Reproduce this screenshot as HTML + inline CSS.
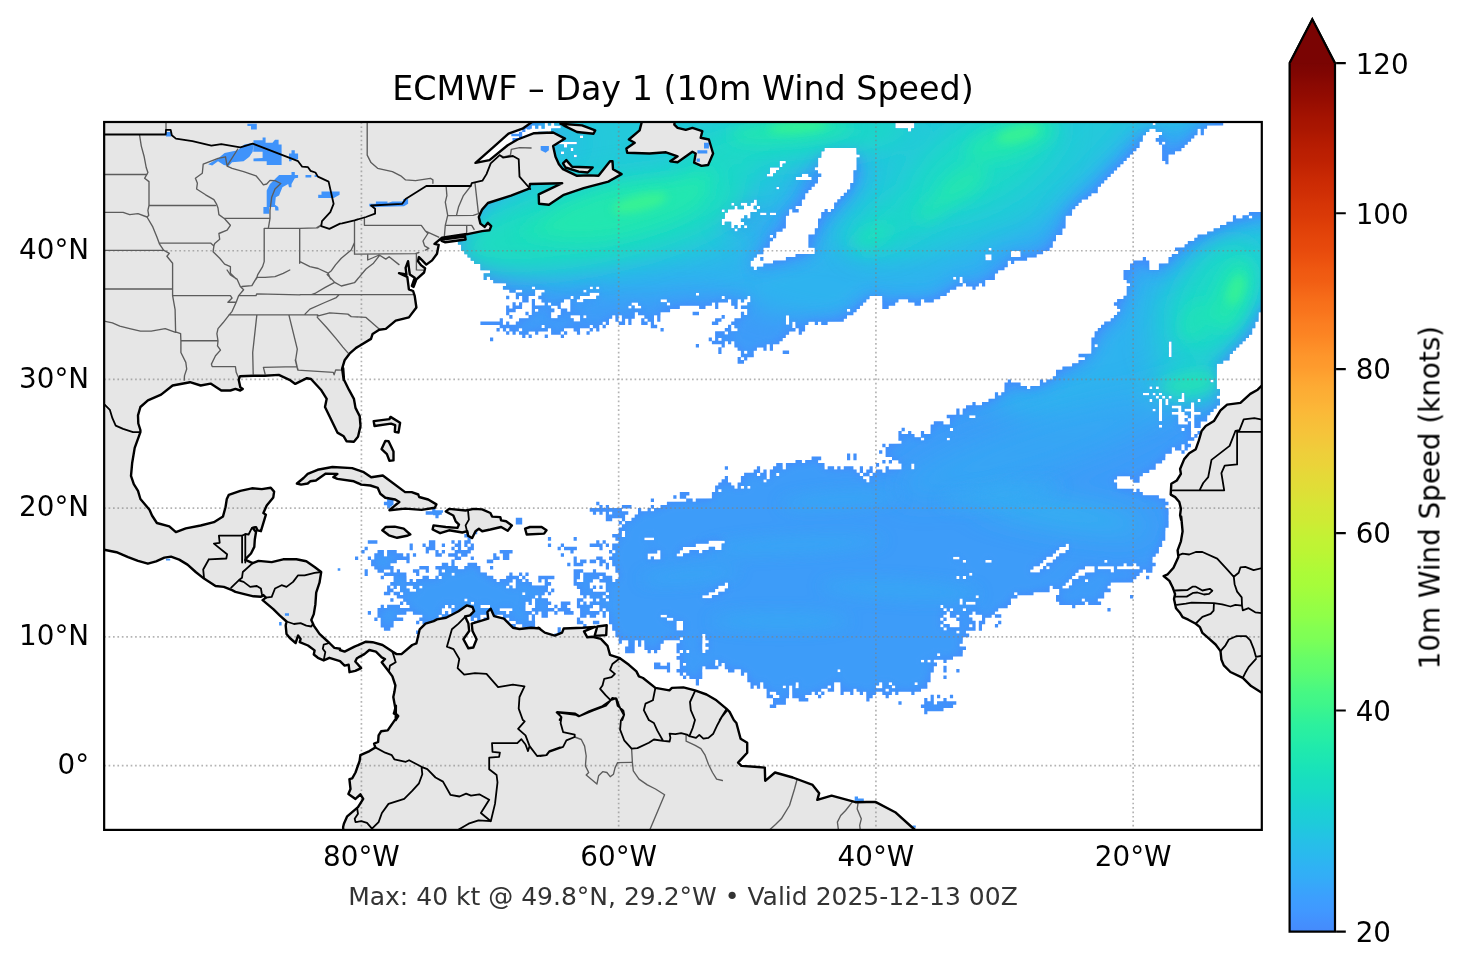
<!DOCTYPE html>
<html lang="en"><head><meta charset="utf-8"><title>ECMWF – Day 1 (10m Wind Speed)</title>
<style>html,body{margin:0;padding:0;background:#fff}svg{display:block}text{font-family:"DejaVu Sans","Liberation Sans",sans-serif;fill:#000}.t10{font-size:27.78px}.coast{fill:none;stroke:#000;stroke-width:2.4;stroke-linejoin:round;stroke-linecap:round}.bord{fill:none;stroke:#000;stroke-width:1.8;stroke-linejoin:round;stroke-linecap:round}.state{fill:none;stroke:#5c5c5c;stroke-width:1.35;stroke-linejoin:round;stroke-linecap:round}.land{fill:#e6e6e6;stroke:none}.grid{fill:none;stroke:#808080;stroke-opacity:.6;stroke-width:1.67;stroke-dasharray:1.67 2.75}</style></head><body>
<svg width="1466" height="969" viewBox="0 0 1466 969">
<defs>
<clipPath id="axclip"><rect x="104.15" y="122.0" width="1157.65" height="707.90"/></clipPath>
<linearGradient id="cbg" gradientUnits="userSpaceOnUse" x1="0" y1="931.6" x2="0" y2="63.2"><stop offset="0.0000" stop-color="#458afc"/><stop offset="0.0125" stop-color="#4391fe"/><stop offset="0.0250" stop-color="#4099ff"/><stop offset="0.0375" stop-color="#3d9efe"/><stop offset="0.0500" stop-color="#38a5fb"/><stop offset="0.0625" stop-color="#33adf7"/><stop offset="0.0750" stop-color="#2fb2f4"/><stop offset="0.0875" stop-color="#2ab9ee"/><stop offset="0.1000" stop-color="#27bee9"/><stop offset="0.1125" stop-color="#22c5e2"/><stop offset="0.1250" stop-color="#1ecbda"/><stop offset="0.1375" stop-color="#1bd0d5"/><stop offset="0.1500" stop-color="#19d5cd"/><stop offset="0.1625" stop-color="#18dbc5"/><stop offset="0.1750" stop-color="#18dec0"/><stop offset="0.1875" stop-color="#19e3b9"/><stop offset="0.2000" stop-color="#1de7b2"/><stop offset="0.2125" stop-color="#20eaac"/><stop offset="0.2250" stop-color="#27eea4"/><stop offset="0.2375" stop-color="#2cf09e"/><stop offset="0.2500" stop-color="#35f394"/><stop offset="0.2625" stop-color="#3ff68a"/><stop offset="0.2750" stop-color="#46f884"/><stop offset="0.2875" stop-color="#52fa7a"/><stop offset="0.3000" stop-color="#5dfc6f"/><stop offset="0.3125" stop-color="#65fd69"/><stop offset="0.3250" stop-color="#71fe5f"/><stop offset="0.3375" stop-color="#7dff56"/><stop offset="0.3500" stop-color="#84ff51"/><stop offset="0.3625" stop-color="#8fff49"/><stop offset="0.3750" stop-color="#96fe44"/><stop offset="0.3875" stop-color="#9ffd3f"/><stop offset="0.4000" stop-color="#a7fc3a"/><stop offset="0.4125" stop-color="#acfb38"/><stop offset="0.4250" stop-color="#b4f836"/><stop offset="0.4375" stop-color="#bcf534"/><stop offset="0.4500" stop-color="#c1f334"/><stop offset="0.4625" stop-color="#c8ef34"/><stop offset="0.4750" stop-color="#d0ea34"/><stop offset="0.4875" stop-color="#d4e735"/><stop offset="0.5000" stop-color="#dbe236"/><stop offset="0.5125" stop-color="#e1dd37"/><stop offset="0.5250" stop-color="#e5d938"/><stop offset="0.5375" stop-color="#ebd339"/><stop offset="0.5500" stop-color="#eecf3a"/><stop offset="0.5625" stop-color="#f2c93a"/><stop offset="0.5750" stop-color="#f6c33a"/><stop offset="0.5875" stop-color="#f8be39"/><stop offset="0.6000" stop-color="#fbb838"/><stop offset="0.6125" stop-color="#fcb136"/><stop offset="0.6250" stop-color="#fdac34"/><stop offset="0.6375" stop-color="#fea431"/><stop offset="0.6500" stop-color="#fe9b2d"/><stop offset="0.6625" stop-color="#fe962b"/><stop offset="0.6750" stop-color="#fd8d27"/><stop offset="0.6875" stop-color="#fc8423"/><stop offset="0.7000" stop-color="#fb7e21"/><stop offset="0.7125" stop-color="#f9751d"/><stop offset="0.7250" stop-color="#f76f1a"/><stop offset="0.7375" stop-color="#f46617"/><stop offset="0.7500" stop-color="#f15d13"/><stop offset="0.7625" stop-color="#ef5811"/><stop offset="0.7750" stop-color="#eb500e"/><stop offset="0.7875" stop-color="#e7490c"/><stop offset="0.8000" stop-color="#e4450a"/><stop offset="0.8125" stop-color="#df3f08"/><stop offset="0.8250" stop-color="#da3907"/><stop offset="0.8375" stop-color="#d63506"/><stop offset="0.8500" stop-color="#d02f05"/><stop offset="0.8625" stop-color="#cc2b04"/><stop offset="0.8750" stop-color="#c52603"/><stop offset="0.8875" stop-color="#be2102"/><stop offset="0.9000" stop-color="#b91e02"/><stop offset="0.9125" stop-color="#b21a01"/><stop offset="0.9250" stop-color="#a91601"/><stop offset="0.9375" stop-color="#a41301"/><stop offset="0.9500" stop-color="#9b0f01"/><stop offset="0.9625" stop-color="#920b01"/><stop offset="0.9750" stop-color="#8b0902"/><stop offset="0.9875" stop-color="#810602"/><stop offset="1.0000" stop-color="#7a0403"/></linearGradient>
<path id="lp" d="M532.4 108.1L531.9 122.1L522.5 128.7L508.5 133.7L494.5 146.1L482.9 156.3L475.5 162.9L489.5 160.1L507.7 145.2L517.6 139.5L534.1 133.2L553.1 132.5L565 138.6L553.1 146.1L555.5 156.8L558.9 164.2L563 169.2L577 175.8L589.4 175.4L598.5 175.8L610 161.2L612.5 161.2L613 169.2L621.6 174.1L608.4 181.6L583.6 188.2L563.8 194.8L548.9 204.7L539 203.8L538.7 194.3L562.2 183.2L530 184L529.1 188.7L511 195.6L487.9 203L482.1 209.6L478.8 217L480.4 223.6L484.6 226.9L487.9 222.8L491.2 226.1L489.5 230.2L482.1 231.1L466.4 234.4L466.7 234L442 237.8L437.8 241.1L434.5 243.9L438.7 244.8L437 253.8L432.1 260.4L426.3 264.6L422.2 260.4L418.9 257.1L418 261.3L421.3 265.4L425.1 268.2L424.1 272.5L416.4 279.4L413.6 286.9L411.9 286L414.7 277.8L409.8 274.5L408.9 267.9L408.1 261.3L405.6 267.9L406.5 274.5L399 273.2L407.3 276.9L408.9 289.3L413.1 291L414.7 295.9L416.4 307.5L408.9 317.4L395.7 320.7L385.8 328.9L379.2 329.8L372.6 333.9L371 338.9L356.1 347.9L349.5 353.7L344.6 360.3L342.1 368.6L343.7 380L343.2 368.3L344 379.8L348.9 389.7L353.9 398.8L355.5 407.9L359.7 416.1L360.5 426L358 436.8L353.9 441.7L346.5 441.2L343.7 436.3L337.4 432.6L325 407L326.7 398.8L320.9 389.7L311 379L306.9 378.2L295.3 383.9L289.5 379.8L278.8 374.9L264.8 375.7L253.2 375.7L240 376.2L240 376.1L238.7 379.8L240.3 387.2L242.8 388.9L240.3 390.5L235.4 388.9L230.4 390.5L221.3 390.5L210.6 383.6L200.7 385.5L190 382.2L172.6 385.5L161.1 394.6L147.9 400.4L140.4 407L138 415.3L138.3 423.5L140.4 430L140.4 432.2L134.7 447.9L132.2 462.7L131 475.9L133.8 484.2L138 490.8L140.4 499L149.5 509.8L152 515.5L156.9 523L169.3 526.3L175.9 532.1L185.8 528.4L200.7 525.5L213.9 522.2L223 516.4L225.5 507.3L226.8 499L228.8 494.9L240.3 490.8L251.9 488.3L261.8 489.1L270.8 487.8L274.1 491.6L273.3 497.4L266.7 505.6L263.4 513.1L265.9 514.7L260.9 531.2L257.6 530.4L256 527.1L252.7 527.9L256 532.1L254.8 539.5L254.3 546.9L251 553.5L246.9 557.6L245.3 560L246.6 560.4L252.7 563.2L258.5 560.9L271.7 562.1L283.2 559.3L296.4 559.3L306.3 561.3L314.6 567L321.2 572L319.5 582.7L316.2 592.6L315.4 604.2L313.8 614.1L311.3 619.9L313.8 625.6L319.5 633.9L329.4 643L334.4 647.9L340 648.8L339.9 650L344.6 651.6L354.5 646.7L366 641.7L372.6 642.2L382.5 645L392.4 651.6L396.6 654.1L401.5 654.1L412.2 645L416.4 643.4L419.7 629.3L425.5 623.6L433.7 621.1L437 619.4L446.1 617.8L458.5 611.2L466.7 605.4L472.5 607L474.1 611.2L470 615.3L465.1 616.5L468.4 623.6L469.2 631L463.4 639.2L468.4 648.3L473.3 647.5L476.6 639.2L472.5 631L471.7 623.6L488.2 618.6L487.4 612L490.7 608.7L494 616.1L503.9 618.6L512.9 627.7L519.5 629L531.1 627.7L540 628.5L538.2 627.7L544.8 632.6L554.7 635.6L562.1 632.6L563.7 628.5L582.7 627.7L595.1 626.9L584 631.3L587.3 637.3L592.6 636.8L600.9 638.9L607.5 645.8L610 654.9L619.9 658.2L628.9 664.8L636.4 671.4L638.9 676.4L643 678L655.4 687.9L669.4 690.4L671.9 687.9L683.4 687.4L695 690.4L706.5 694.5L716.4 700.3L726.3 708.6L729.6 711.9L733.8 720L736.4 723L740.6 738.7L747.2 742.8L747.2 752.7L738.1 762.6L741.4 765.9L754.6 766.8L764.8 767.6L765.2 780.8L775 772.5L792.8 777.5L812.6 784.9L819.2 793.2L817.3 799.8L831.6 795.6L855.5 802.2L875.4 801.9L895.2 812.2L911.7 827L917.5 832L921.6 855.1L344.8 855.1L343.1 827L343.9 823.7L347.2 816.3L358 807.2L363.2 798.9L360.4 794.3L355.5 798.9L348.4 794L350.5 789L349.4 779.1L352.2 778.3L355.5 772.5L359.6 761L360.4 755.2L369.5 751.1L375.3 747.4L374.1 743.6L378.1 742L378.6 735.4L381.1 731.3L387.7 730.4L397.9 715.6L394.3 712.3L395.9 705.7L395.7 720L398.2 716L393.8 713.5L395.4 708.6L393.3 697L394.4 692.1L395.4 685.5L392.4 676.4L387.5 669.8L381.7 662.3L385 659L381.7 657.4L375.9 651.6L369.3 650L364.4 654.1L356.9 658.2L355.3 661.5L361.1 668.1L355.3 670.9L349.5 672.2L348.7 664.8L344.6 665.6L340 661.1L329.4 657.8L323.7 660.3L317.9 657.8L313.8 654.5L314.6 650.4L308 645.5L299.7 642.2L300.6 638.9L298.1 635.5L295.6 643L289.8 638L286.5 633.9L285.7 625.6L286.5 621.5L279.9 615.7L273.3 609.1L262.6 600.1L265.9 597.6L263.4 595.1L260.9 596.8L253.5 596.3L245.3 594.3L235.4 591.8L232.1 590.2L223.8 586.9L215.5 586L204 578.6L195.7 572L187.5 564.6L179.2 559.6L171 556.6L164.4 557.6L156.1 561.3L147.9 563.7L138 560.9L128.1 557.1L116.5 552.2L104.1 549.7L83.5 548.1L60 548.1L60 80L532.4 80ZM1314.7 376.5L1261.8 385.6L1257.7 389.7L1250.3 393.9L1240.4 402.9L1227.1 404.6L1220.5 410.4L1213.9 421.1L1205.7 426.1L1201.6 431L1198.7 440.9L1195.8 449.2L1189.2 453.3L1184.2 459.1L1180.1 469L1180.9 473.9L1176.8 480.5L1171.3 483.8L1170.7 494.6L1175.1 497.1L1179.3 502L1180.9 508.6L1180.1 515.2L1181.2 520L1181.2 516.5L1182.6 531.4L1180.9 541.3L1177.6 550.4L1178.4 557L1173.5 567.7L1167.7 574.3L1163.6 576L1169.4 580.9L1172.7 587.5L1175.1 594.1L1174 599.1L1176 608.2L1180.1 613.1L1182.6 617.2L1188.3 619.7L1195.8 623.8L1199.9 627.1L1202.4 632.9L1207.3 637.1L1215.6 644.5L1220.5 651.1L1221.4 659.6L1223.8 665.4L1230.4 672L1242.8 677.8L1251.1 686.1L1261.8 692.7L1314.7 712.5ZM645.4 108.1L639.6 130.4L628.9 139.5L634.7 142.8L626.4 148.5L627.2 152.7L649.5 153.5L666 152.3L677.6 156.3L670.2 161.2L677.6 162.2L692.4 151.8L695.7 153.5L694.1 162.6L701.5 165.9L708.1 165L713.1 153.5L708.9 139.5L700.7 137.8L702.3 131.2L692.4 127.9L685.8 129.9L677.6 127.9L674.3 124.6L676.8 108.1ZM560.5 123.8L582 125.4L595.2 130.4L593.5 133.7L577 132L565.5 126.3ZM563 163.4L566.3 160.1L572.1 166.7L592.7 167.5L587.7 172.5L578.7 171.6L565.5 167.5ZM442 239.5L465.1 236.5L465.6 239.5L445.3 242.3L441.6 240.8ZM373.7 421.1L389.4 419.1L390.5 416.9L400.1 422.7L398.5 432.6L394.8 431.8L395.2 425.2L391 423.6L374.5 426ZM385.3 440.9L388.6 441.2L393.5 451.6L393.5 460.4L389.4 460.7L386.9 454.1L381.6 449.1ZM296.9 483.5L303.6 478L307.7 473.9L317.6 469.8L332.4 467L352.2 468.1L363.8 472.2L371.2 477.2L382.8 475.5L405.1 492.1L411.7 492.1L418.3 494.5L419.1 497L428.2 499.5L436.4 504.4L434.8 507.7L421.6 509.9L405.1 508.6L389.4 510.2L395.2 505.3L399.3 502L395.2 499.5L385.3 497.8L380.3 493.7L377.8 487.9L370.4 485.5L361.3 484.6L353.9 481.3L337.4 478.9L333.3 477.2L337.4 473.9L325.8 473.6L315.9 480.5L310.2 481.3L307.7 483.5L301.1 484.6ZM597.3 626.5L606.7 625.2L606.2 635.1L594.6 635.9ZM382.3 530.3L385.6 527L394.7 526.6L403.7 528.7L410.3 534.5L407 535.8L397.1 537.8L388.9 535.3ZM445.8 511.4L449.1 508.9L465.6 510.5L473.9 508.9L482.2 509.4L490.4 513L492.1 516.6L500.3 517.1L501.1 520.4L506.1 521.3L511.9 525.4L507.7 530.8L501.1 527L490.4 529.5L482.2 531.2L478.9 528.7L475.5 531.2L472.2 538.1L468.1 535.8L467.3 531.2L462.3 532.5L449.1 530.3L440.1 533.2L432.6 529.5L433.5 525.4L445.8 527L457.4 527.9L459 524.6L455.7 521.3L453.3 515.5L450 513.8ZM525.1 528.7L530 527L541.6 527L546.5 530.3L544.1 533.6L526.7 534.5Z"/>
<path id="wm" d="M522.2 70.5h707.5v3.57h-707.5zM522.2 73.7h707.5v3.57h-707.5zM522.2 77.0h701.0v3.57h-701.0zM1226.4 77.0h6.4v3.57h-6.4zM522.2 80.2h707.5v3.57h-707.5zM522.2 83.4h707.5v3.57h-707.5zM522.2 86.6h707.5v3.57h-707.5zM522.2 89.8h707.5v3.57h-707.5zM522.2 93.0h3.2v3.57h-3.2zM528.6 93.0h701.0v3.57h-701.0zM522.2 96.3h707.5v3.57h-707.5zM522.2 99.5h707.5v3.57h-707.5zM522.2 102.7h707.5v3.57h-707.5zM522.2 105.9h707.5v3.57h-707.5zM522.2 109.1h707.5v3.57h-707.5zM525.4 112.3h16.1v3.57h-16.1zM544.7 112.3h684.9v3.57h-684.9zM522.2 115.6h701.0v3.57h-701.0zM1226.4 115.6h3.2v3.57h-3.2zM522.2 118.8h9.6v3.57h-9.6zM535.1 118.8h19.3v3.57h-19.3zM557.6 118.8h337.6v3.57h-337.6zM898.4 118.8h331.2v3.57h-331.2zM522.2 122.0h22.5v3.57h-22.5zM547.9 122.0h3.2v3.57h-3.2zM554.3 122.0h340.9v3.57h-340.9zM914.5 122.0h238.0v3.57h-238.0zM1155.7 122.0h67.5v3.57h-67.5zM522.2 125.2h9.6v3.57h-9.6zM535.1 125.2h3.2v3.57h-3.2zM541.5 125.2h3.2v3.57h-3.2zM560.8 125.2h334.4v3.57h-334.4zM914.5 125.2h292.6v3.57h-292.6zM522.2 128.4h3.2v3.57h-3.2zM551.1 128.4h356.9v3.57h-356.9zM911.3 128.4h238.0v3.57h-238.0zM1155.7 128.4h41.8v3.57h-41.8zM1200.7 128.4h3.2v3.57h-3.2zM519.0 131.7h3.2v3.57h-3.2zM538.3 131.7h9.6v3.57h-9.6zM551.1 131.7h594.9v3.57h-594.9zM1162.1 131.7h35.4v3.57h-35.4zM1200.7 131.7h3.2v3.57h-3.2zM519.0 134.9h3.2v3.57h-3.2zM531.8 134.9h48.2v3.57h-48.2zM583.3 134.9h559.5v3.57h-559.5zM1158.9 134.9h35.4v3.57h-35.4zM512.5 138.1h9.6v3.57h-9.6zM525.4 138.1h32.2v3.57h-32.2zM560.8 138.1h582.0v3.57h-582.0zM1155.7 138.1h35.4v3.57h-35.4zM515.8 141.3h3.2v3.57h-3.2zM522.2 141.3h22.5v3.57h-22.5zM547.9 141.3h6.4v3.57h-6.4zM576.9 141.3h562.7v3.57h-562.7zM1158.9 141.3h3.2v3.57h-3.2zM1165.3 141.3h22.5v3.57h-22.5zM522.2 144.5h41.8v3.57h-41.8zM567.2 144.5h572.4v3.57h-572.4zM1162.1 144.5h22.5v3.57h-22.5zM519.0 147.7h51.5v3.57h-51.5zM573.6 147.7h250.8v3.57h-250.8zM856.6 147.7h279.8v3.57h-279.8zM1162.1 147.7h19.3v3.57h-19.3zM519.0 151.0h41.8v3.57h-41.8zM564.0 151.0h257.3v3.57h-257.3zM856.6 151.0h276.5v3.57h-276.5zM1162.1 151.0h12.9v3.57h-12.9zM519.0 154.2h54.7v3.57h-54.7zM576.9 154.2h244.4v3.57h-244.4zM859.8 154.2h270.1v3.57h-270.1zM1162.1 154.2h6.4v3.57h-6.4zM519.0 157.4h299.1v3.57h-299.1zM856.6 157.4h270.1v3.57h-270.1zM1162.1 157.4h6.4v3.57h-6.4zM515.8 160.6h48.2v3.57h-48.2zM567.2 160.6h212.2v3.57h-212.2zM785.9 160.6h32.2v3.57h-32.2zM856.6 160.6h266.9v3.57h-266.9zM1165.3 160.6h3.2v3.57h-3.2zM515.8 163.8h263.7v3.57h-263.7zM782.7 163.8h35.4v3.57h-35.4zM856.6 163.8h263.7v3.57h-263.7zM509.3 167.0h260.5v3.57h-260.5zM779.4 167.0h35.4v3.57h-35.4zM856.6 167.0h260.5v3.57h-260.5zM506.1 170.3h263.7v3.57h-263.7zM776.2 170.3h41.8v3.57h-41.8zM853.4 170.3h260.5v3.57h-260.5zM502.9 173.5h263.7v3.57h-263.7zM773.0 173.5h28.9v3.57h-28.9zM808.4 173.5h12.9v3.57h-12.9zM853.4 173.5h257.3v3.57h-257.3zM496.5 176.7h299.1v3.57h-299.1zM811.6 176.7h6.4v3.57h-6.4zM853.4 176.7h254.0v3.57h-254.0zM493.2 179.9h324.8v3.57h-324.8zM853.4 179.9h250.8v3.57h-250.8zM490.0 183.1h324.8v3.57h-324.8zM850.2 183.1h250.8v3.57h-250.8zM486.8 186.4h289.4v3.57h-289.4zM779.4 186.4h32.2v3.57h-32.2zM850.2 186.4h247.6v3.57h-247.6zM483.6 189.6h324.8v3.57h-324.8zM847.0 189.6h250.8v3.57h-250.8zM477.2 192.8h328.0v3.57h-328.0zM843.8 192.8h247.6v3.57h-247.6zM477.2 196.0h328.0v3.57h-328.0zM840.5 196.0h247.6v3.57h-247.6zM474.0 199.2h279.8v3.57h-279.8zM756.9 199.2h45.0v3.57h-45.0zM837.3 199.2h244.4v3.57h-244.4zM470.7 202.4h260.5v3.57h-260.5zM734.4 202.4h6.4v3.57h-6.4zM747.3 202.4h3.2v3.57h-3.2zM756.9 202.4h45.0v3.57h-45.0zM834.1 202.4h244.4v3.57h-244.4zM474.0 205.7h260.5v3.57h-260.5zM737.6 205.7h6.4v3.57h-6.4zM753.7 205.7h3.2v3.57h-3.2zM760.2 205.7h35.4v3.57h-35.4zM834.1 205.7h241.2v3.57h-241.2zM467.5 208.9h254.0v3.57h-254.0zM724.8 208.9h3.2v3.57h-3.2zM756.9 208.9h32.2v3.57h-32.2zM792.3 208.9h6.4v3.57h-6.4zM824.5 208.9h3.2v3.57h-3.2zM830.9 208.9h241.2v3.57h-241.2zM464.3 212.1h260.5v3.57h-260.5zM750.5 212.1h9.6v3.57h-9.6zM766.6 212.1h3.2v3.57h-3.2zM776.2 212.1h12.9v3.57h-12.9zM821.2 212.1h250.8v3.57h-250.8zM1248.9 212.1h57.9v3.57h-57.9zM464.3 215.3h260.5v3.57h-260.5zM744.1 215.3h3.2v3.57h-3.2zM750.5 215.3h35.4v3.57h-35.4zM821.2 215.3h244.4v3.57h-244.4zM1232.9 215.3h3.2v3.57h-3.2zM1242.5 215.3h6.4v3.57h-6.4zM1252.2 215.3h54.7v3.57h-54.7zM461.1 218.5h260.5v3.57h-260.5zM740.9 218.5h45.0v3.57h-45.0zM818.0 218.5h247.6v3.57h-247.6zM1232.9 218.5h74.0v3.57h-74.0zM457.9 221.7h263.7v3.57h-263.7zM724.8 221.7h6.4v3.57h-6.4zM744.1 221.7h41.8v3.57h-41.8zM818.0 221.7h247.6v3.57h-247.6zM1226.4 221.7h80.4v3.57h-80.4zM457.9 225.0h273.3v3.57h-273.3zM734.4 225.0h3.2v3.57h-3.2zM740.9 225.0h3.2v3.57h-3.2zM747.3 225.0h38.6v3.57h-38.6zM818.0 225.0h247.6v3.57h-247.6zM1220.0 225.0h86.8v3.57h-86.8zM454.7 228.2h279.8v3.57h-279.8zM737.6 228.2h45.0v3.57h-45.0zM814.8 228.2h247.6v3.57h-247.6zM1213.6 228.2h93.3v3.57h-93.3zM457.9 231.4h318.4v3.57h-318.4zM814.8 231.4h247.6v3.57h-247.6zM1207.1 231.4h99.7v3.57h-99.7zM457.9 234.6h311.9v3.57h-311.9zM773.0 234.6h3.2v3.57h-3.2zM808.4 234.6h247.6v3.57h-247.6zM1197.5 234.6h109.3v3.57h-109.3zM461.1 237.8h311.9v3.57h-311.9zM808.4 237.8h247.6v3.57h-247.6zM1194.3 237.8h112.5v3.57h-112.5zM457.9 241.1h311.9v3.57h-311.9zM808.4 241.1h244.4v3.57h-244.4zM1187.8 241.1h119.0v3.57h-119.0zM461.1 244.3h308.7v3.57h-308.7zM808.4 244.3h244.4v3.57h-244.4zM1184.6 244.3h122.2v3.57h-122.2zM461.1 247.5h302.3v3.57h-302.3zM814.8 247.5h173.6v3.57h-173.6zM991.7 247.5h57.9v3.57h-57.9zM1175.0 247.5h131.8v3.57h-131.8zM464.3 250.7h299.1v3.57h-299.1zM814.8 250.7h196.2v3.57h-196.2zM1020.6 250.7h22.5v3.57h-22.5zM1178.2 250.7h128.6v3.57h-128.6zM467.5 253.9h289.4v3.57h-289.4zM795.5 253.9h189.7v3.57h-189.7zM991.7 253.9h19.3v3.57h-19.3zM1020.6 253.9h16.1v3.57h-16.1zM1171.8 253.9h135.1v3.57h-135.1zM470.7 257.1h283.0v3.57h-283.0zM760.2 257.1h3.2v3.57h-3.2zM785.9 257.1h199.4v3.57h-199.4zM991.7 257.1h35.4v3.57h-35.4zM1142.8 257.1h3.2v3.57h-3.2zM1168.5 257.1h138.3v3.57h-138.3zM474.0 260.4h276.5v3.57h-276.5zM773.0 260.4h234.7v3.57h-234.7zM1011.0 260.4h3.2v3.57h-3.2zM1133.2 260.4h16.1v3.57h-16.1zM1168.5 260.4h138.3v3.57h-138.3zM480.4 263.6h270.1v3.57h-270.1zM763.4 263.6h244.4v3.57h-244.4zM1130.0 263.6h19.3v3.57h-19.3zM1158.9 263.6h147.9v3.57h-147.9zM480.4 266.8h273.3v3.57h-273.3zM756.9 266.8h247.6v3.57h-247.6zM1130.0 266.8h19.3v3.57h-19.3zM1158.9 266.8h147.9v3.57h-147.9zM490.0 270.0h508.1v3.57h-508.1zM1123.5 270.0h183.3v3.57h-183.3zM483.6 273.2h511.3v3.57h-511.3zM1123.5 273.2h183.3v3.57h-183.3zM483.6 276.5h3.2v3.57h-3.2zM490.0 276.5h463.1v3.57h-463.1zM956.3 276.5h3.2v3.57h-3.2zM962.7 276.5h32.2v3.57h-32.2zM1123.5 276.5h183.3v3.57h-183.3zM493.2 279.7h466.3v3.57h-466.3zM962.7 279.7h22.5v3.57h-22.5zM1126.7 279.7h180.1v3.57h-180.1zM506.1 282.9h456.6v3.57h-456.6zM966.0 282.9h12.9v3.57h-12.9zM982.0 282.9h3.2v3.57h-3.2zM1130.0 282.9h176.9v3.57h-176.9zM502.9 286.1h28.9v3.57h-28.9zM535.1 286.1h54.7v3.57h-54.7zM592.9 286.1h3.2v3.57h-3.2zM599.4 286.1h356.9v3.57h-356.9zM972.4 286.1h3.2v3.57h-3.2zM1126.7 286.1h180.1v3.57h-180.1zM509.3 289.3h6.4v3.57h-6.4zM522.2 289.3h12.9v3.57h-12.9zM544.7 289.3h38.6v3.57h-38.6zM586.5 289.3h363.4v3.57h-363.4zM1126.7 289.3h180.1v3.57h-180.1zM515.8 292.5h19.3v3.57h-19.3zM541.5 292.5h48.2v3.57h-48.2zM599.4 292.5h96.5v3.57h-96.5zM699.1 292.5h247.6v3.57h-247.6zM1126.7 292.5h180.1v3.57h-180.1zM506.1 295.8h3.2v3.57h-3.2zM515.8 295.8h3.2v3.57h-3.2zM522.2 295.8h6.4v3.57h-6.4zM538.3 295.8h32.2v3.57h-32.2zM573.6 295.8h6.4v3.57h-6.4zM596.2 295.8h125.4v3.57h-125.4zM724.8 295.8h22.5v3.57h-22.5zM750.5 295.8h119.0v3.57h-119.0zM882.3 295.8h57.9v3.57h-57.9zM1123.5 295.8h183.3v3.57h-183.3zM522.2 299.0h6.4v3.57h-6.4zM531.8 299.0h3.2v3.57h-3.2zM541.5 299.0h22.5v3.57h-22.5zM570.4 299.0h6.4v3.57h-6.4zM583.3 299.0h77.2v3.57h-77.2zM666.9 299.0h61.1v3.57h-61.1zM731.2 299.0h6.4v3.57h-6.4zM740.9 299.0h3.2v3.57h-3.2zM750.5 299.0h115.8v3.57h-115.8zM882.3 299.0h16.1v3.57h-16.1zM908.1 299.0h12.9v3.57h-12.9zM924.2 299.0h9.6v3.57h-9.6zM1117.1 299.0h189.7v3.57h-189.7zM512.5 302.2h3.2v3.57h-3.2zM519.0 302.2h3.2v3.57h-3.2zM531.8 302.2h3.2v3.57h-3.2zM544.7 302.2h3.2v3.57h-3.2zM551.1 302.2h9.6v3.57h-9.6zM570.4 302.2h61.1v3.57h-61.1zM638.0 302.2h28.9v3.57h-28.9zM670.1 302.2h41.8v3.57h-41.8zM715.1 302.2h3.2v3.57h-3.2zM731.2 302.2h6.4v3.57h-6.4zM747.3 302.2h115.8v3.57h-115.8zM882.3 302.2h12.9v3.57h-12.9zM914.5 302.2h6.4v3.57h-6.4zM1113.9 302.2h192.9v3.57h-192.9zM506.1 305.4h3.2v3.57h-3.2zM512.5 305.4h9.6v3.57h-9.6zM531.8 305.4h19.3v3.57h-19.3zM557.6 305.4h3.2v3.57h-3.2zM570.4 305.4h57.9v3.57h-57.9zM631.5 305.4h3.2v3.57h-3.2zM641.2 305.4h38.6v3.57h-38.6zM699.1 305.4h6.4v3.57h-6.4zM715.1 305.4h3.2v3.57h-3.2zM734.4 305.4h3.2v3.57h-3.2zM740.9 305.4h119.0v3.57h-119.0zM882.3 305.4h6.4v3.57h-6.4zM1117.1 305.4h144.7v3.57h-144.7zM506.1 308.6h9.6v3.57h-9.6zM531.8 308.6h3.2v3.57h-3.2zM538.3 308.6h16.1v3.57h-16.1zM560.8 308.6h6.4v3.57h-6.4zM570.4 308.6h99.7v3.57h-99.7zM747.3 308.6h99.7v3.57h-99.7zM850.2 308.6h6.4v3.57h-6.4zM1120.3 308.6h141.5v3.57h-141.5zM506.1 311.8h3.2v3.57h-3.2zM525.4 311.8h3.2v3.57h-3.2zM531.8 311.8h19.3v3.57h-19.3zM560.8 311.8h74.0v3.57h-74.0zM638.0 311.8h22.5v3.57h-22.5zM692.6 311.8h6.4v3.57h-6.4zM740.9 311.8h3.2v3.57h-3.2zM747.3 311.8h106.1v3.57h-106.1zM1117.1 311.8h141.5v3.57h-141.5zM509.3 315.1h3.2v3.57h-3.2zM528.6 315.1h22.5v3.57h-22.5zM557.6 315.1h12.9v3.57h-12.9zM580.1 315.1h3.2v3.57h-3.2zM586.5 315.1h25.7v3.57h-25.7zM615.4 315.1h3.2v3.57h-3.2zM621.9 315.1h12.9v3.57h-12.9zM644.4 315.1h9.6v3.57h-9.6zM657.2 315.1h3.2v3.57h-3.2zM721.6 315.1h3.2v3.57h-3.2zM740.9 315.1h45.0v3.57h-45.0zM789.1 315.1h57.9v3.57h-57.9zM1113.9 315.1h144.7v3.57h-144.7zM499.7 318.3h3.2v3.57h-3.2zM519.0 318.3h54.7v3.57h-54.7zM580.1 318.3h28.9v3.57h-28.9zM615.4 318.3h3.2v3.57h-3.2zM621.9 318.3h3.2v3.57h-3.2zM628.3 318.3h3.2v3.57h-3.2zM641.2 318.3h3.2v3.57h-3.2zM647.6 318.3h6.4v3.57h-6.4zM657.2 318.3h3.2v3.57h-3.2zM715.1 318.3h6.4v3.57h-6.4zM734.4 318.3h51.5v3.57h-51.5zM789.1 318.3h54.7v3.57h-54.7zM1110.7 318.3h147.9v3.57h-147.9zM480.4 321.5h22.5v3.57h-22.5zM506.1 321.5h3.2v3.57h-3.2zM515.8 321.5h86.8v3.57h-86.8zM605.8 321.5h3.2v3.57h-3.2zM618.7 321.5h6.4v3.57h-6.4zM628.3 321.5h3.2v3.57h-3.2zM641.2 321.5h6.4v3.57h-6.4zM650.8 321.5h3.2v3.57h-3.2zM711.9 321.5h6.4v3.57h-6.4zM731.2 321.5h54.7v3.57h-54.7zM789.1 321.5h3.2v3.57h-3.2zM795.5 321.5h12.9v3.57h-12.9zM814.8 321.5h3.2v3.57h-3.2zM821.2 321.5h6.4v3.57h-6.4zM1104.2 321.5h151.1v3.57h-151.1zM499.7 324.7h41.8v3.57h-41.8zM544.7 324.7h45.0v3.57h-45.0zM592.9 324.7h6.4v3.57h-6.4zM602.6 324.7h3.2v3.57h-3.2zM650.8 324.7h6.4v3.57h-6.4zM728.0 324.7h3.2v3.57h-3.2zM734.4 324.7h57.9v3.57h-57.9zM795.5 324.7h9.6v3.57h-9.6zM1101.0 324.7h154.4v3.57h-154.4zM496.5 327.9h3.2v3.57h-3.2zM502.9 327.9h3.2v3.57h-3.2zM509.3 327.9h9.6v3.57h-9.6zM522.2 327.9h25.7v3.57h-25.7zM551.1 327.9h12.9v3.57h-12.9zM573.6 327.9h6.4v3.57h-6.4zM589.7 327.9h3.2v3.57h-3.2zM596.2 327.9h3.2v3.57h-3.2zM660.5 327.9h3.2v3.57h-3.2zM724.8 327.9h6.4v3.57h-6.4zM737.6 327.9h57.9v3.57h-57.9zM798.7 327.9h6.4v3.57h-6.4zM1097.8 327.9h154.4v3.57h-154.4zM506.1 331.2h3.2v3.57h-3.2zM512.5 331.2h3.2v3.57h-3.2zM519.0 331.2h9.6v3.57h-9.6zM535.1 331.2h3.2v3.57h-3.2zM551.1 331.2h9.6v3.57h-9.6zM564.0 331.2h3.2v3.57h-3.2zM576.9 331.2h3.2v3.57h-3.2zM586.5 331.2h3.2v3.57h-3.2zM715.1 331.2h9.6v3.57h-9.6zM728.0 331.2h61.1v3.57h-61.1zM798.7 331.2h3.2v3.57h-3.2zM1094.6 331.2h157.6v3.57h-157.6zM522.2 334.4h3.2v3.57h-3.2zM528.6 334.4h3.2v3.57h-3.2zM544.7 334.4h3.2v3.57h-3.2zM560.8 334.4h3.2v3.57h-3.2zM715.1 334.4h70.7v3.57h-70.7zM1094.6 334.4h154.4v3.57h-154.4zM490.0 337.6h3.2v3.57h-3.2zM708.7 337.6h3.2v3.57h-3.2zM715.1 337.6h3.2v3.57h-3.2zM721.6 337.6h61.1v3.57h-61.1zM1091.4 337.6h154.4v3.57h-154.4zM711.9 340.8h12.9v3.57h-12.9zM728.0 340.8h3.2v3.57h-3.2zM734.4 340.8h45.0v3.57h-45.0zM1091.4 340.8h77.2v3.57h-77.2zM1171.8 340.8h70.7v3.57h-70.7zM695.8 344.0h3.2v3.57h-3.2zM721.6 344.0h3.2v3.57h-3.2zM734.4 344.0h32.2v3.57h-32.2zM769.8 344.0h3.2v3.57h-3.2zM1091.4 344.0h3.2v3.57h-3.2zM1097.8 344.0h70.7v3.57h-70.7zM1171.8 344.0h67.5v3.57h-67.5zM718.3 347.2h3.2v3.57h-3.2zM737.6 347.2h19.3v3.57h-19.3zM763.4 347.2h3.2v3.57h-3.2zM769.8 347.2h3.2v3.57h-3.2zM1091.4 347.2h77.2v3.57h-77.2zM1171.8 347.2h64.3v3.57h-64.3zM718.3 350.5h3.2v3.57h-3.2zM740.9 350.5h3.2v3.57h-3.2zM747.3 350.5h6.4v3.57h-6.4zM782.7 350.5h6.4v3.57h-6.4zM1091.4 350.5h77.2v3.57h-77.2zM1171.8 350.5h61.1v3.57h-61.1zM740.9 353.7h12.9v3.57h-12.9zM1078.5 353.7h90.0v3.57h-90.0zM1171.8 353.7h57.9v3.57h-57.9zM737.6 356.9h3.2v3.57h-3.2zM744.1 356.9h3.2v3.57h-3.2zM1084.9 356.9h144.7v3.57h-144.7zM737.6 360.1h6.4v3.57h-6.4zM1078.5 360.1h144.7v3.57h-144.7zM1072.1 363.3h144.7v3.57h-144.7zM1062.4 366.5h154.4v3.57h-154.4zM1056.0 369.8h160.8v3.57h-160.8zM1056.0 373.0h160.8v3.57h-160.8zM1052.8 376.2h164.0v3.57h-164.0zM1007.8 379.4h3.2v3.57h-3.2zM1039.9 379.4h3.2v3.57h-3.2zM1046.3 379.4h164.0v3.57h-164.0zM1213.6 379.4h3.2v3.57h-3.2zM1004.5 382.6h16.1v3.57h-16.1zM1039.9 382.6h176.9v3.57h-176.9zM1004.5 385.9h22.5v3.57h-22.5zM1030.3 385.9h119.0v3.57h-119.0zM1152.5 385.9h3.2v3.57h-3.2zM1158.9 385.9h57.9v3.57h-57.9zM1004.5 389.1h215.5v3.57h-215.5zM994.9 392.3h3.2v3.57h-3.2zM1001.3 392.3h141.5v3.57h-141.5zM1149.3 392.3h3.2v3.57h-3.2zM1155.7 392.3h3.2v3.57h-3.2zM1162.1 392.3h19.3v3.57h-19.3zM1184.6 392.3h35.4v3.57h-35.4zM994.9 395.5h160.8v3.57h-160.8zM1158.9 395.5h3.2v3.57h-3.2zM1165.3 395.5h3.2v3.57h-3.2zM1171.8 395.5h9.6v3.57h-9.6zM1184.6 395.5h32.2v3.57h-32.2zM988.5 398.7h160.8v3.57h-160.8zM1152.5 398.7h6.4v3.57h-6.4zM1162.1 398.7h3.2v3.57h-3.2zM1168.5 398.7h9.6v3.57h-9.6zM1184.6 398.7h12.9v3.57h-12.9zM1200.7 398.7h19.3v3.57h-19.3zM972.4 401.9h3.2v3.57h-3.2zM982.0 401.9h176.9v3.57h-176.9zM1162.1 401.9h3.2v3.57h-3.2zM1168.5 401.9h22.5v3.57h-22.5zM1194.3 401.9h25.7v3.57h-25.7zM966.0 405.2h192.9v3.57h-192.9zM1162.1 405.2h9.6v3.57h-9.6zM1181.4 405.2h9.6v3.57h-9.6zM1194.3 405.2h22.5v3.57h-22.5zM956.3 408.4h3.2v3.57h-3.2zM962.7 408.4h189.7v3.57h-189.7zM1155.7 408.4h3.2v3.57h-3.2zM1162.1 408.4h16.1v3.57h-16.1zM1181.4 408.4h3.2v3.57h-3.2zM1194.3 408.4h19.3v3.57h-19.3zM956.3 411.6h3.2v3.57h-3.2zM962.7 411.6h196.2v3.57h-196.2zM1162.1 411.6h9.6v3.57h-9.6zM1184.6 411.6h6.4v3.57h-6.4zM1200.7 411.6h9.6v3.57h-9.6zM946.7 414.8h22.5v3.57h-22.5zM975.6 414.8h183.3v3.57h-183.3zM1162.1 414.8h16.1v3.57h-16.1zM1187.8 414.8h3.2v3.57h-3.2zM1194.3 414.8h12.9v3.57h-12.9zM949.9 418.0h209.0v3.57h-209.0zM1162.1 418.0h16.1v3.57h-16.1zM1184.6 418.0h3.2v3.57h-3.2zM1194.3 418.0h12.9v3.57h-12.9zM933.8 421.2h9.6v3.57h-9.6zM949.9 421.2h228.3v3.57h-228.3zM1187.8 421.2h3.2v3.57h-3.2zM1194.3 421.2h6.4v3.57h-6.4zM930.6 424.5h228.3v3.57h-228.3zM1162.1 424.5h28.9v3.57h-28.9zM1194.3 424.5h6.4v3.57h-6.4zM901.6 427.7h3.2v3.57h-3.2zM930.6 427.7h19.3v3.57h-19.3zM953.1 427.7h228.3v3.57h-228.3zM1184.6 427.7h6.4v3.57h-6.4zM898.4 430.9h3.2v3.57h-3.2zM908.1 430.9h3.2v3.57h-3.2zM920.9 430.9h3.2v3.57h-3.2zM930.6 430.9h260.5v3.57h-260.5zM1197.5 430.9h3.2v3.57h-3.2zM898.4 434.1h16.1v3.57h-16.1zM920.9 434.1h270.1v3.57h-270.1zM1194.3 434.1h3.2v3.57h-3.2zM898.4 437.3h22.5v3.57h-22.5zM924.2 437.3h22.5v3.57h-22.5zM949.9 437.3h244.4v3.57h-244.4zM901.6 440.6h286.2v3.57h-286.2zM882.3 443.8h3.2v3.57h-3.2zM888.8 443.8h292.6v3.57h-292.6zM1184.6 443.8h6.4v3.57h-6.4zM885.6 447.0h286.2v3.57h-286.2zM1175.0 447.0h6.4v3.57h-6.4zM1184.6 447.0h3.2v3.57h-3.2zM879.1 450.2h3.2v3.57h-3.2zM885.6 450.2h286.2v3.57h-286.2zM1181.4 450.2h3.2v3.57h-3.2zM847.0 453.4h3.2v3.57h-3.2zM853.4 453.4h3.2v3.57h-3.2zM885.6 453.4h279.8v3.57h-279.8zM811.6 456.6h9.6v3.57h-9.6zM847.0 456.6h3.2v3.57h-3.2zM853.4 456.6h3.2v3.57h-3.2zM892.0 456.6h273.3v3.57h-273.3zM795.5 459.9h6.4v3.57h-6.4zM805.2 459.9h12.9v3.57h-12.9zM882.3 459.9h3.2v3.57h-3.2zM888.8 459.9h3.2v3.57h-3.2zM898.4 459.9h263.7v3.57h-263.7zM776.2 463.1h6.4v3.57h-6.4zM785.9 463.1h38.6v3.57h-38.6zM875.9 463.1h3.2v3.57h-3.2zM901.6 463.1h9.6v3.57h-9.6zM914.5 463.1h241.2v3.57h-241.2zM724.8 466.3h3.2v3.57h-3.2zM756.9 466.3h3.2v3.57h-3.2zM773.0 466.3h9.6v3.57h-9.6zM785.9 466.3h38.6v3.57h-38.6zM827.7 466.3h6.4v3.57h-6.4zM837.3 466.3h3.2v3.57h-3.2zM843.8 466.3h9.6v3.57h-9.6zM859.8 466.3h3.2v3.57h-3.2zM869.5 466.3h3.2v3.57h-3.2zM885.6 466.3h3.2v3.57h-3.2zM901.6 466.3h9.6v3.57h-9.6zM914.5 466.3h241.2v3.57h-241.2zM753.7 469.5h6.4v3.57h-6.4zM763.4 469.5h3.2v3.57h-3.2zM769.8 469.5h86.8v3.57h-86.8zM859.8 469.5h3.2v3.57h-3.2zM866.3 469.5h6.4v3.57h-6.4zM875.9 469.5h6.4v3.57h-6.4zM885.6 469.5h263.7v3.57h-263.7zM744.1 472.7h12.9v3.57h-12.9zM760.2 472.7h6.4v3.57h-6.4zM769.8 472.7h6.4v3.57h-6.4zM779.4 472.7h80.4v3.57h-80.4zM863.1 472.7h6.4v3.57h-6.4zM872.7 472.7h270.1v3.57h-270.1zM724.8 475.9h3.2v3.57h-3.2zM740.9 475.9h25.7v3.57h-25.7zM769.8 475.9h93.3v3.57h-93.3zM869.5 475.9h247.6v3.57h-247.6zM1130.0 475.9h9.6v3.57h-9.6zM721.6 479.2h6.4v3.57h-6.4zM740.9 479.2h22.5v3.57h-22.5zM766.6 479.2h99.7v3.57h-99.7zM869.5 479.2h244.4v3.57h-244.4zM1133.2 479.2h6.4v3.57h-6.4zM718.3 482.4h12.9v3.57h-12.9zM737.6 482.4h379.5v3.57h-379.5zM715.1 485.6h19.3v3.57h-19.3zM737.6 485.6h3.2v3.57h-3.2zM744.1 485.6h3.2v3.57h-3.2zM750.5 485.6h366.6v3.57h-366.6zM715.1 488.8h3.2v3.57h-3.2zM721.6 488.8h411.6v3.57h-411.6zM1136.4 488.8h3.2v3.57h-3.2zM387.1 492.0h6.4v3.57h-6.4zM679.8 492.0h9.6v3.57h-9.6zM711.9 492.0h430.9v3.57h-430.9zM390.3 495.3h3.2v3.57h-3.2zM673.3 495.3h3.2v3.57h-3.2zM679.8 495.3h6.4v3.57h-6.4zM711.9 495.3h447.0v3.57h-447.0zM387.1 498.5h6.4v3.57h-6.4zM650.8 498.5h3.2v3.57h-3.2zM686.2 498.5h6.4v3.57h-6.4zM695.8 498.5h469.5v3.57h-469.5zM383.9 501.7h9.6v3.57h-9.6zM596.2 501.7h3.2v3.57h-3.2zM666.9 501.7h501.6v3.57h-501.6zM387.1 504.9h3.2v3.57h-3.2zM599.4 504.9h3.2v3.57h-3.2zM605.8 504.9h3.2v3.57h-3.2zM621.9 504.9h9.6v3.57h-9.6zM650.8 504.9h3.2v3.57h-3.2zM660.5 504.9h504.9v3.57h-504.9zM432.2 508.1h3.2v3.57h-3.2zM589.7 508.1h32.2v3.57h-32.2zM638.0 508.1h3.2v3.57h-3.2zM647.6 508.1h3.2v3.57h-3.2zM654.0 508.1h514.5v3.57h-514.5zM425.7 511.3h16.1v3.57h-16.1zM592.9 511.3h3.2v3.57h-3.2zM599.4 511.3h3.2v3.57h-3.2zM605.8 511.3h3.2v3.57h-3.2zM612.2 511.3h16.1v3.57h-16.1zM638.0 511.3h530.6v3.57h-530.6zM435.4 514.6h3.2v3.57h-3.2zM605.8 514.6h19.3v3.57h-19.3zM634.7 514.6h533.8v3.57h-533.8zM515.8 517.8h6.4v3.57h-6.4zM605.8 517.8h6.4v3.57h-6.4zM621.9 517.8h3.2v3.57h-3.2zM631.5 517.8h537.0v3.57h-537.0zM515.8 521.0h6.4v3.57h-6.4zM618.7 521.0h3.2v3.57h-3.2zM625.1 521.0h543.5v3.57h-543.5zM621.9 524.2h546.7v3.57h-546.7zM618.7 527.4h546.7v3.57h-546.7zM474.0 530.7h3.2v3.57h-3.2zM618.7 530.7h3.2v3.57h-3.2zM625.1 530.7h540.2v3.57h-540.2zM464.3 533.9h3.2v3.57h-3.2zM612.2 533.9h9.6v3.57h-9.6zM625.1 533.9h540.2v3.57h-540.2zM467.5 537.1h3.2v3.57h-3.2zM547.9 537.1h3.2v3.57h-3.2zM573.6 537.1h3.2v3.57h-3.2zM615.4 537.1h28.9v3.57h-28.9zM654.0 537.1h511.3v3.57h-511.3zM367.8 540.3h9.6v3.57h-9.6zM428.9 540.3h6.4v3.57h-6.4zM451.4 540.3h3.2v3.57h-3.2zM457.9 540.3h3.2v3.57h-3.2zM464.3 540.3h6.4v3.57h-6.4zM596.2 540.3h3.2v3.57h-3.2zM602.6 540.3h3.2v3.57h-3.2zM618.7 540.3h90.0v3.57h-90.0zM724.8 540.3h437.3v3.57h-437.3zM409.6 543.5h3.2v3.57h-3.2zM422.5 543.5h3.2v3.57h-3.2zM428.9 543.5h6.4v3.57h-6.4zM441.8 543.5h3.2v3.57h-3.2zM454.7 543.5h6.4v3.57h-6.4zM464.3 543.5h3.2v3.57h-3.2zM470.7 543.5h3.2v3.57h-3.2zM547.9 543.5h3.2v3.57h-3.2zM560.8 543.5h3.2v3.57h-3.2zM589.7 543.5h12.9v3.57h-12.9zM605.8 543.5h3.2v3.57h-3.2zM612.2 543.5h83.6v3.57h-83.6zM721.6 543.5h344.1v3.57h-344.1zM1068.9 543.5h93.3v3.57h-93.3zM364.6 546.7h3.2v3.57h-3.2zM409.6 546.7h3.2v3.57h-3.2zM425.7 546.7h9.6v3.57h-9.6zM451.4 546.7h3.2v3.57h-3.2zM457.9 546.7h3.2v3.57h-3.2zM467.5 546.7h6.4v3.57h-6.4zM557.6 546.7h3.2v3.57h-3.2zM564.0 546.7h12.9v3.57h-12.9zM599.4 546.7h3.2v3.57h-3.2zM612.2 546.7h70.7v3.57h-70.7zM708.7 546.7h6.4v3.57h-6.4zM721.6 546.7h337.6v3.57h-337.6zM1068.9 546.7h90.0v3.57h-90.0zM361.4 550.0h3.2v3.57h-3.2zM377.5 550.0h6.4v3.57h-6.4zM387.1 550.0h9.6v3.57h-9.6zM425.7 550.0h3.2v3.57h-3.2zM435.4 550.0h3.2v3.57h-3.2zM441.8 550.0h3.2v3.57h-3.2zM454.7 550.0h16.1v3.57h-16.1zM499.7 550.0h12.9v3.57h-12.9zM570.4 550.0h3.2v3.57h-3.2zM609.0 550.0h3.2v3.57h-3.2zM615.4 550.0h41.8v3.57h-41.8zM660.5 550.0h19.3v3.57h-19.3zM689.4 550.0h9.6v3.57h-9.6zM702.3 550.0h353.7v3.57h-353.7zM1065.6 550.0h93.3v3.57h-93.3zM374.3 553.2h9.6v3.57h-9.6zM387.1 553.2h16.1v3.57h-16.1zM406.4 553.2h3.2v3.57h-3.2zM412.9 553.2h3.2v3.57h-3.2zM435.4 553.2h6.4v3.57h-6.4zM448.2 553.2h9.6v3.57h-9.6zM461.1 553.2h6.4v3.57h-6.4zM493.2 553.2h3.2v3.57h-3.2zM502.9 553.2h6.4v3.57h-6.4zM560.8 553.2h3.2v3.57h-3.2zM612.2 553.2h35.4v3.57h-35.4zM660.5 553.2h16.1v3.57h-16.1zM683.0 553.2h369.8v3.57h-369.8zM1059.2 553.2h96.5v3.57h-96.5zM355.0 556.4h3.2v3.57h-3.2zM367.8 556.4h3.2v3.57h-3.2zM374.3 556.4h35.4v3.57h-35.4zM454.7 556.4h6.4v3.57h-6.4zM470.7 556.4h3.2v3.57h-3.2zM493.2 556.4h6.4v3.57h-6.4zM502.9 556.4h6.4v3.57h-6.4zM573.6 556.4h3.2v3.57h-3.2zM596.2 556.4h6.4v3.57h-6.4zM609.0 556.4h38.6v3.57h-38.6zM650.8 556.4h3.2v3.57h-3.2zM660.5 556.4h292.6v3.57h-292.6zM959.5 556.4h86.8v3.57h-86.8zM1056.0 556.4h96.5v3.57h-96.5zM371.1 559.6h25.7v3.57h-25.7zM406.4 559.6h3.2v3.57h-3.2zM451.4 559.6h3.2v3.57h-3.2zM486.8 559.6h6.4v3.57h-6.4zM573.6 559.6h3.2v3.57h-3.2zM580.1 559.6h6.4v3.57h-6.4zM589.7 559.6h6.4v3.57h-6.4zM599.4 559.6h6.4v3.57h-6.4zM612.2 559.6h350.5v3.57h-350.5zM966.0 559.6h19.3v3.57h-19.3zM991.7 559.6h51.5v3.57h-51.5zM1052.8 559.6h51.5v3.57h-51.5zM1107.4 559.6h45.0v3.57h-45.0zM371.1 562.8h19.3v3.57h-19.3zM441.8 562.8h6.4v3.57h-6.4zM451.4 562.8h3.2v3.57h-3.2zM467.5 562.8h9.6v3.57h-9.6zM567.2 562.8h3.2v3.57h-3.2zM573.6 562.8h9.6v3.57h-9.6zM599.4 562.8h3.2v3.57h-3.2zM605.8 562.8h3.2v3.57h-3.2zM612.2 562.8h427.7v3.57h-427.7zM1046.3 562.8h77.2v3.57h-77.2zM1126.7 562.8h6.4v3.57h-6.4zM1136.4 562.8h19.3v3.57h-19.3zM374.3 566.0h19.3v3.57h-19.3zM419.3 566.0h9.6v3.57h-9.6zM435.4 566.0h22.5v3.57h-22.5zM464.3 566.0h16.1v3.57h-16.1zM490.0 566.0h3.2v3.57h-3.2zM605.8 566.0h3.2v3.57h-3.2zM615.4 566.0h418.0v3.57h-418.0zM1043.1 566.0h3.2v3.57h-3.2zM1049.6 566.0h35.4v3.57h-35.4zM1094.6 566.0h3.2v3.57h-3.2zM1113.9 566.0h3.2v3.57h-3.2zM1139.6 566.0h12.9v3.57h-12.9zM364.6 569.3h3.2v3.57h-3.2zM377.5 569.3h6.4v3.57h-6.4zM390.3 569.3h3.2v3.57h-3.2zM396.8 569.3h3.2v3.57h-3.2zM412.9 569.3h6.4v3.57h-6.4zM425.7 569.3h3.2v3.57h-3.2zM438.6 569.3h3.2v3.57h-3.2zM445.0 569.3h35.4v3.57h-35.4zM573.6 569.3h9.6v3.57h-9.6zM592.9 569.3h3.2v3.57h-3.2zM615.4 569.3h414.8v3.57h-414.8zM1039.9 569.3h38.6v3.57h-38.6zM1094.6 569.3h16.1v3.57h-16.1zM1113.9 569.3h28.9v3.57h-28.9zM1146.0 569.3h6.4v3.57h-6.4zM364.6 572.5h3.2v3.57h-3.2zM383.9 572.5h22.5v3.57h-22.5zM416.1 572.5h3.2v3.57h-3.2zM438.6 572.5h12.9v3.57h-12.9zM454.7 572.5h32.2v3.57h-32.2zM509.3 572.5h3.2v3.57h-3.2zM519.0 572.5h3.2v3.57h-3.2zM525.4 572.5h3.2v3.57h-3.2zM573.6 572.5h6.4v3.57h-6.4zM583.3 572.5h22.5v3.57h-22.5zM618.7 572.5h350.5v3.57h-350.5zM972.4 572.5h102.9v3.57h-102.9zM1084.9 572.5h54.7v3.57h-54.7zM380.7 575.7h3.2v3.57h-3.2zM393.6 575.7h12.9v3.57h-12.9zM422.5 575.7h6.4v3.57h-6.4zM435.4 575.7h3.2v3.57h-3.2zM441.8 575.7h51.5v3.57h-51.5zM506.1 575.7h12.9v3.57h-12.9zM522.2 575.7h3.2v3.57h-3.2zM538.3 575.7h16.1v3.57h-16.1zM573.6 575.7h6.4v3.57h-6.4zM583.3 575.7h16.1v3.57h-16.1zM602.6 575.7h9.6v3.57h-9.6zM618.7 575.7h337.6v3.57h-337.6zM959.5 575.7h3.2v3.57h-3.2zM966.0 575.7h106.1v3.57h-106.1zM1078.5 575.7h57.9v3.57h-57.9zM1146.0 575.7h3.2v3.57h-3.2zM393.6 578.9h12.9v3.57h-12.9zM409.6 578.9h3.2v3.57h-3.2zM416.1 578.9h80.4v3.57h-80.4zM499.7 578.9h12.9v3.57h-12.9zM515.8 578.9h6.4v3.57h-6.4zM525.4 578.9h3.2v3.57h-3.2zM538.3 578.9h3.2v3.57h-3.2zM544.7 578.9h3.2v3.57h-3.2zM573.6 578.9h3.2v3.57h-3.2zM583.3 578.9h9.6v3.57h-9.6zM599.4 578.9h12.9v3.57h-12.9zM615.4 578.9h453.4v3.57h-453.4zM1072.1 578.9h12.9v3.57h-12.9zM1088.2 578.9h45.0v3.57h-45.0zM390.3 582.1h119.0v3.57h-119.0zM515.8 582.1h16.1v3.57h-16.1zM544.7 582.1h6.4v3.57h-6.4zM573.6 582.1h16.1v3.57h-16.1zM605.8 582.1h119.0v3.57h-119.0zM728.0 582.1h337.6v3.57h-337.6zM1072.1 582.1h38.6v3.57h-38.6zM387.1 585.4h3.2v3.57h-3.2zM393.6 585.4h3.2v3.57h-3.2zM400.0 585.4h6.4v3.57h-6.4zM412.9 585.4h6.4v3.57h-6.4zM422.5 585.4h83.6v3.57h-83.6zM509.3 585.4h3.2v3.57h-3.2zM515.8 585.4h32.2v3.57h-32.2zM576.9 585.4h12.9v3.57h-12.9zM592.9 585.4h3.2v3.57h-3.2zM599.4 585.4h3.2v3.57h-3.2zM605.8 585.4h112.5v3.57h-112.5zM728.0 585.4h321.6v3.57h-321.6zM1052.8 585.4h9.6v3.57h-9.6zM1068.9 585.4h38.6v3.57h-38.6zM387.1 588.6h6.4v3.57h-6.4zM400.0 588.6h9.6v3.57h-9.6zM416.1 588.6h131.8v3.57h-131.8zM551.1 588.6h3.2v3.57h-3.2zM580.1 588.6h12.9v3.57h-12.9zM605.8 588.6h109.3v3.57h-109.3zM724.8 588.6h324.8v3.57h-324.8zM1059.2 588.6h51.5v3.57h-51.5zM383.9 591.8h6.4v3.57h-6.4zM393.6 591.8h6.4v3.57h-6.4zM403.2 591.8h119.0v3.57h-119.0zM525.4 591.8h19.3v3.57h-19.3zM547.9 591.8h3.2v3.57h-3.2zM580.1 591.8h25.7v3.57h-25.7zM609.0 591.8h99.7v3.57h-99.7zM718.3 591.8h295.8v3.57h-295.8zM1017.4 591.8h16.1v3.57h-16.1zM1059.2 591.8h45.0v3.57h-45.0zM396.8 595.0h138.3v3.57h-138.3zM538.3 595.0h3.2v3.57h-3.2zM583.3 595.0h3.2v3.57h-3.2zM589.7 595.0h12.9v3.57h-12.9zM605.8 595.0h96.5v3.57h-96.5zM711.9 595.0h263.7v3.57h-263.7zM978.8 595.0h38.6v3.57h-38.6zM1056.0 595.0h48.2v3.57h-48.2zM1130.0 595.0h3.2v3.57h-3.2zM390.3 598.2h3.2v3.57h-3.2zM403.2 598.2h61.1v3.57h-61.1zM467.5 598.2h64.3v3.57h-64.3zM535.1 598.2h12.9v3.57h-12.9zM576.9 598.2h6.4v3.57h-6.4zM592.9 598.2h3.2v3.57h-3.2zM599.4 598.2h6.4v3.57h-6.4zM609.0 598.2h350.5v3.57h-350.5zM962.7 598.2h48.2v3.57h-48.2zM1056.0 598.2h25.7v3.57h-25.7zM1084.9 598.2h12.9v3.57h-12.9zM400.0 601.4h3.2v3.57h-3.2zM406.4 601.4h64.3v3.57h-64.3zM474.0 601.4h51.5v3.57h-51.5zM528.6 601.4h3.2v3.57h-3.2zM535.1 601.4h16.1v3.57h-16.1zM560.8 601.4h9.6v3.57h-9.6zM576.9 601.4h3.2v3.57h-3.2zM583.3 601.4h3.2v3.57h-3.2zM589.7 601.4h369.8v3.57h-369.8zM962.7 601.4h3.2v3.57h-3.2zM975.6 601.4h35.4v3.57h-35.4zM1059.2 601.4h25.7v3.57h-25.7zM1088.2 601.4h12.9v3.57h-12.9zM380.7 604.7h3.2v3.57h-3.2zM387.1 604.7h12.9v3.57h-12.9zM409.6 604.7h35.4v3.57h-35.4zM448.2 604.7h3.2v3.57h-3.2zM454.7 604.7h25.7v3.57h-25.7zM490.0 604.7h35.4v3.57h-35.4zM535.1 604.7h12.9v3.57h-12.9zM554.3 604.7h3.2v3.57h-3.2zM560.8 604.7h6.4v3.57h-6.4zM576.9 604.7h16.1v3.57h-16.1zM599.4 604.7h340.9v3.57h-340.9zM943.4 604.7h64.3v3.57h-64.3zM1072.1 604.7h3.2v3.57h-3.2zM377.5 607.9h64.3v3.57h-64.3zM451.4 607.9h48.2v3.57h-48.2zM512.5 607.9h12.9v3.57h-12.9zM531.8 607.9h22.5v3.57h-22.5zM557.6 607.9h12.9v3.57h-12.9zM580.1 607.9h9.6v3.57h-9.6zM599.4 607.9h3.2v3.57h-3.2zM605.8 607.9h337.6v3.57h-337.6zM946.7 607.9h3.2v3.57h-3.2zM953.1 607.9h9.6v3.57h-9.6zM966.0 607.9h32.2v3.57h-32.2zM1107.4 607.9h3.2v3.57h-3.2zM367.8 611.1h3.2v3.57h-3.2zM377.5 611.1h28.9v3.57h-28.9zM412.9 611.1h28.9v3.57h-28.9zM445.0 611.1h3.2v3.57h-3.2zM451.4 611.1h6.4v3.57h-6.4zM461.1 611.1h45.0v3.57h-45.0zM509.3 611.1h22.5v3.57h-22.5zM535.1 611.1h3.2v3.57h-3.2zM541.5 611.1h6.4v3.57h-6.4zM554.3 611.1h3.2v3.57h-3.2zM564.0 611.1h9.6v3.57h-9.6zM580.1 611.1h19.3v3.57h-19.3zM602.6 611.1h3.2v3.57h-3.2zM609.0 611.1h337.6v3.57h-337.6zM949.9 611.1h22.5v3.57h-22.5zM975.6 611.1h19.3v3.57h-19.3zM377.5 614.3h19.3v3.57h-19.3zM422.5 614.3h16.1v3.57h-16.1zM441.8 614.3h12.9v3.57h-12.9zM461.1 614.3h3.2v3.57h-3.2zM470.7 614.3h9.6v3.57h-9.6zM486.8 614.3h9.6v3.57h-9.6zM502.9 614.3h25.7v3.57h-25.7zM531.8 614.3h3.2v3.57h-3.2zM541.5 614.3h6.4v3.57h-6.4zM580.1 614.3h6.4v3.57h-6.4zM589.7 614.3h6.4v3.57h-6.4zM602.6 614.3h3.2v3.57h-3.2zM609.0 614.3h51.5v3.57h-51.5zM666.9 614.3h276.5v3.57h-276.5zM949.9 614.3h6.4v3.57h-6.4zM959.5 614.3h9.6v3.57h-9.6zM982.0 614.3h9.6v3.57h-9.6zM994.9 614.3h6.4v3.57h-6.4zM374.3 617.5h3.2v3.57h-3.2zM380.7 617.5h22.5v3.57h-22.5zM419.3 617.5h28.9v3.57h-28.9zM470.7 617.5h3.2v3.57h-3.2zM477.2 617.5h3.2v3.57h-3.2zM483.6 617.5h6.4v3.57h-6.4zM499.7 617.5h6.4v3.57h-6.4zM509.3 617.5h19.3v3.57h-19.3zM531.8 617.5h3.2v3.57h-3.2zM576.9 617.5h3.2v3.57h-3.2zM609.0 617.5h57.9v3.57h-57.9zM673.3 617.5h266.9v3.57h-266.9zM943.4 617.5h3.2v3.57h-3.2zM956.3 617.5h16.1v3.57h-16.1zM982.0 617.5h3.2v3.57h-3.2zM380.7 620.7h12.9v3.57h-12.9zM416.1 620.7h3.2v3.57h-3.2zM422.5 620.7h16.1v3.57h-16.1zM445.0 620.7h6.4v3.57h-6.4zM474.0 620.7h3.2v3.57h-3.2zM480.4 620.7h3.2v3.57h-3.2zM496.5 620.7h3.2v3.57h-3.2zM506.1 620.7h3.2v3.57h-3.2zM515.8 620.7h19.3v3.57h-19.3zM576.9 620.7h6.4v3.57h-6.4zM592.9 620.7h6.4v3.57h-6.4zM609.0 620.7h67.5v3.57h-67.5zM683.0 620.7h260.5v3.57h-260.5zM959.5 620.7h16.1v3.57h-16.1zM978.8 620.7h6.4v3.57h-6.4zM998.1 620.7h3.2v3.57h-3.2zM380.7 624.0h12.9v3.57h-12.9zM428.9 624.0h3.2v3.57h-3.2zM445.0 624.0h3.2v3.57h-3.2zM509.3 624.0h6.4v3.57h-6.4zM522.2 624.0h12.9v3.57h-12.9zM583.3 624.0h3.2v3.57h-3.2zM612.2 624.0h64.3v3.57h-64.3zM683.0 624.0h257.3v3.57h-257.3zM943.4 624.0h6.4v3.57h-6.4zM959.5 624.0h9.6v3.57h-9.6zM972.4 624.0h3.2v3.57h-3.2zM978.8 624.0h3.2v3.57h-3.2zM994.9 624.0h3.2v3.57h-3.2zM383.9 627.2h6.4v3.57h-6.4zM531.8 627.2h3.2v3.57h-3.2zM557.6 627.2h3.2v3.57h-3.2zM612.2 627.2h64.3v3.57h-64.3zM683.0 627.2h260.5v3.57h-260.5zM946.7 627.2h28.9v3.57h-28.9zM978.8 627.2h3.2v3.57h-3.2zM416.1 630.4h6.4v3.57h-6.4zM425.7 630.4h3.2v3.57h-3.2zM502.9 630.4h3.2v3.57h-3.2zM515.8 630.4h3.2v3.57h-3.2zM522.2 630.4h3.2v3.57h-3.2zM557.6 630.4h3.2v3.57h-3.2zM615.4 630.4h340.9v3.57h-340.9zM959.5 630.4h6.4v3.57h-6.4zM422.5 633.6h3.2v3.57h-3.2zM499.7 633.6h6.4v3.57h-6.4zM554.3 633.6h6.4v3.57h-6.4zM615.4 633.6h86.8v3.57h-86.8zM705.5 633.6h263.7v3.57h-263.7zM502.9 636.8h6.4v3.57h-6.4zM551.1 636.8h3.2v3.57h-3.2zM618.7 636.8h61.1v3.57h-61.1zM683.0 636.8h19.3v3.57h-19.3zM705.5 636.8h257.3v3.57h-257.3zM509.3 640.1h3.2v3.57h-3.2zM618.7 640.1h3.2v3.57h-3.2zM628.3 640.1h6.4v3.57h-6.4zM638.0 640.1h3.2v3.57h-3.2zM644.4 640.1h19.3v3.57h-19.3zM679.8 640.1h22.5v3.57h-22.5zM708.7 640.1h254.0v3.57h-254.0zM628.3 643.3h6.4v3.57h-6.4zM638.0 643.3h3.2v3.57h-3.2zM644.4 643.3h16.1v3.57h-16.1zM676.5 643.3h25.7v3.57h-25.7zM705.5 643.3h254.0v3.57h-254.0zM625.1 646.5h9.6v3.57h-9.6zM644.4 646.5h16.1v3.57h-16.1zM676.5 646.5h25.7v3.57h-25.7zM708.7 646.5h257.3v3.57h-257.3zM625.1 649.7h9.6v3.57h-9.6zM647.6 649.7h3.2v3.57h-3.2zM654.0 649.7h3.2v3.57h-3.2zM676.5 649.7h3.2v3.57h-3.2zM683.0 649.7h3.2v3.57h-3.2zM689.4 649.7h12.9v3.57h-12.9zM705.5 649.7h257.3v3.57h-257.3zM679.8 652.9h257.3v3.57h-257.3zM940.2 652.9h22.5v3.57h-22.5zM676.5 656.1h276.5v3.57h-276.5zM679.8 659.4h35.4v3.57h-35.4zM718.3 659.4h202.6v3.57h-202.6zM924.2 659.4h3.2v3.57h-3.2zM930.6 659.4h3.2v3.57h-3.2zM943.4 659.4h3.2v3.57h-3.2zM654.0 662.6h6.4v3.57h-6.4zM666.9 662.6h3.2v3.57h-3.2zM679.8 662.6h3.2v3.57h-3.2zM686.2 662.6h28.9v3.57h-28.9zM718.3 662.6h3.2v3.57h-3.2zM724.8 662.6h212.2v3.57h-212.2zM654.0 665.8h16.1v3.57h-16.1zM679.8 665.8h22.5v3.57h-22.5zM705.5 665.8h12.9v3.57h-12.9zM724.8 665.8h209.0v3.57h-209.0zM943.4 665.8h3.2v3.57h-3.2zM666.9 669.0h3.2v3.57h-3.2zM676.5 669.0h25.7v3.57h-25.7zM728.0 669.0h6.4v3.57h-6.4zM740.9 669.0h96.5v3.57h-96.5zM840.5 669.0h93.3v3.57h-93.3zM943.4 669.0h3.2v3.57h-3.2zM956.3 669.0h3.2v3.57h-3.2zM679.8 672.2h3.2v3.57h-3.2zM686.2 672.2h16.1v3.57h-16.1zM740.9 672.2h3.2v3.57h-3.2zM747.3 672.2h183.3v3.57h-183.3zM683.0 675.4h3.2v3.57h-3.2zM689.4 675.4h12.9v3.57h-12.9zM747.3 675.4h183.3v3.57h-183.3zM943.4 675.4h3.2v3.57h-3.2zM695.8 678.7h3.2v3.57h-3.2zM747.3 678.7h183.3v3.57h-183.3zM695.8 681.9h3.2v3.57h-3.2zM750.5 681.9h9.6v3.57h-9.6zM763.4 681.9h32.2v3.57h-32.2zM798.7 681.9h35.4v3.57h-35.4zM840.5 681.9h38.6v3.57h-38.6zM882.3 681.9h6.4v3.57h-6.4zM892.0 681.9h22.5v3.57h-22.5zM917.7 681.9h9.6v3.57h-9.6zM750.5 685.1h3.2v3.57h-3.2zM756.9 685.1h3.2v3.57h-3.2zM763.4 685.1h19.3v3.57h-19.3zM785.9 685.1h3.2v3.57h-3.2zM792.3 685.1h3.2v3.57h-3.2zM798.7 685.1h28.9v3.57h-28.9zM830.9 685.1h3.2v3.57h-3.2zM840.5 685.1h35.4v3.57h-35.4zM882.3 685.1h9.6v3.57h-9.6zM895.2 685.1h32.2v3.57h-32.2zM766.6 688.3h22.5v3.57h-22.5zM792.3 688.3h28.9v3.57h-28.9zM827.7 688.3h6.4v3.57h-6.4zM840.5 688.3h12.9v3.57h-12.9zM856.6 688.3h28.9v3.57h-28.9zM888.8 688.3h32.2v3.57h-32.2zM766.6 691.5h3.2v3.57h-3.2zM776.2 691.5h12.9v3.57h-12.9zM792.3 691.5h19.3v3.57h-19.3zM814.8 691.5h3.2v3.57h-3.2zM821.2 691.5h3.2v3.57h-3.2zM840.5 691.5h3.2v3.57h-3.2zM850.2 691.5h3.2v3.57h-3.2zM859.8 691.5h3.2v3.57h-3.2zM866.3 691.5h9.6v3.57h-9.6zM882.3 691.5h9.6v3.57h-9.6zM895.2 691.5h3.2v3.57h-3.2zM911.3 691.5h3.2v3.57h-3.2zM766.6 694.8h6.4v3.57h-6.4zM779.4 694.8h9.6v3.57h-9.6zM792.3 694.8h12.9v3.57h-12.9zM818.0 694.8h3.2v3.57h-3.2zM866.3 694.8h6.4v3.57h-6.4zM885.6 694.8h3.2v3.57h-3.2zM930.6 694.8h3.2v3.57h-3.2zM937.0 694.8h3.2v3.57h-3.2zM949.9 694.8h3.2v3.57h-3.2zM773.0 698.0h12.9v3.57h-12.9zM798.7 698.0h9.6v3.57h-9.6zM866.3 698.0h3.2v3.57h-3.2zM924.2 698.0h3.2v3.57h-3.2zM930.6 698.0h3.2v3.57h-3.2zM943.4 698.0h3.2v3.57h-3.2zM773.0 701.2h12.9v3.57h-12.9zM898.4 701.2h3.2v3.57h-3.2zM924.2 701.2h9.6v3.57h-9.6zM937.0 701.2h19.3v3.57h-19.3zM769.8 704.4h6.4v3.57h-6.4zM920.9 704.4h32.2v3.57h-32.2zM924.2 707.6h19.3v3.57h-19.3zM924.2 710.8h3.2v3.57h-3.2z"/>
<clipPath id="wclip"><use href="#wm"/></clipPath>
<filter id="er0" filterUnits="userSpaceOnUse" x="60" y="40" width="1300" height="840"><feGaussianBlur stdDeviation="5"/><feComponentTransfer><feFuncA type="linear" slope="2.4" intercept="-1.3"/></feComponentTransfer><feGaussianBlur stdDeviation="2"/></filter><filter id="er1" filterUnits="userSpaceOnUse" x="60" y="40" width="1300" height="840"><feGaussianBlur stdDeviation="11"/><feComponentTransfer><feFuncA type="linear" slope="2.4" intercept="-1.35"/></feComponentTransfer><feGaussianBlur stdDeviation="3"/></filter><filter id="er2" filterUnits="userSpaceOnUse" x="60" y="40" width="1300" height="840"><feGaussianBlur stdDeviation="18"/><feComponentTransfer><feFuncA type="linear" slope="3" intercept="-2.05"/></feComponentTransfer><feGaussianBlur stdDeviation="6"/></filter><filter id="b4" filterUnits="userSpaceOnUse" x="60" y="40" width="1300" height="840"><feGaussianBlur stdDeviation="4"/></filter><filter id="b8" filterUnits="userSpaceOnUse" x="60" y="40" width="1300" height="840"><feGaussianBlur stdDeviation="8"/></filter><filter id="b14" filterUnits="userSpaceOnUse" x="60" y="40" width="1300" height="840"><feGaussianBlur stdDeviation="14"/></filter><mask id="nz" maskUnits="userSpaceOnUse" x="60" y="40" width="1300" height="840"><g filter="url(#b14)"><path d="M420 90L1300 90L1300 432L1245 432L1205 405L1150 408L1100 425L1040 425L985 405L930 412L885 400L860 330L790 318L735 300L700 292L640 296L560 292L500 272L455 242L420 235Z" fill="#fff"/></g></mask><mask id="nz2" maskUnits="userSpaceOnUse" x="60" y="40" width="1300" height="840"><g filter="url(#b14)"><path d="M420 90L1250 90L1150 150L1085 205L1000 238L930 258L880 262L840 246L760 243L700 258L640 262L560 260L500 254L455 240L420 235ZM1262 205L1300 205L1300 412L1232 412L1190 396L1152 360L1150 300L1200 240Z" fill="#fff"/></g></mask>
</defs>
<rect width="1466" height="969" fill="#fff"/>
<g clip-path="url(#axclip)">
<use href="#wm" fill="#4290fb"/>
<g id="wind" clip-path="url(#wclip)"><g filter="url(#er0)"><use href="#wm" fill="#3c9cf9"/></g><g mask="url(#nz)"><g filter="url(#er1)"><use href="#wm" fill="#2eb3ef"/></g></g><g mask="url(#nz2)"><g filter="url(#er2)"><use href="#wm" fill="#21cbd9"/></g></g><g filter="url(#b14)"><ellipse cx="600" cy="222" rx="150" ry="40" transform="rotate(-12 600 222)" fill="#1edcc0"/><ellipse cx="700" cy="178" rx="70" ry="22" transform="rotate(-22 700 178)" fill="#1dd9c6" opacity="0.8"/><ellipse cx="800" cy="138" rx="120" ry="22" transform="rotate(-6 800 138)" fill="#1dd9c6"/><ellipse cx="985" cy="160" rx="85" ry="40" transform="rotate(-30 985 160)" fill="#1dd9c6"/><ellipse cx="905" cy="215" rx="60" ry="22" transform="rotate(-30 905 215)" fill="#1dd9c6" opacity="0.8"/><ellipse cx="1218" cy="300" rx="36" ry="62" transform="rotate(25 1218 300)" fill="#1dd9c6"/><ellipse cx="1185" cy="388" rx="45" ry="14" transform="rotate(-10 1185 388)" fill="#1dd9c6"/><ellipse cx="1062" cy="514" rx="88" ry="12" transform="rotate(9 1062 514)" fill="#30b4ef"/><ellipse cx="1040" cy="445" rx="150" ry="28" transform="rotate(-18 1040 445)" fill="#36a8f4" opacity="0.8"/></g><g filter="url(#b8)"><ellipse cx="625" cy="210" rx="85" ry="24" transform="rotate(-13 625 210)" fill="#22e6b0"/><ellipse cx="560" cy="226" rx="40" ry="12" transform="rotate(-10 560 226)" fill="#22e6b0" opacity="0.6"/><ellipse cx="682" cy="188" rx="36" ry="11" transform="rotate(-22 682 188)" fill="#22e6b0" opacity="0.85"/><ellipse cx="790" cy="130" rx="62" ry="11" transform="rotate(-5 790 130)" fill="#22e6b0"/><ellipse cx="1010" cy="140" rx="46" ry="16" transform="rotate(-18 1010 140)" fill="#22e6b0"/><ellipse cx="962" cy="184" rx="28" ry="14" transform="rotate(-35 962 184)" fill="#22e6b0" opacity="0.9"/><ellipse cx="935" cy="207" rx="22" ry="10" transform="rotate(-35 935 207)" fill="#22e6b0" opacity="0.7"/><ellipse cx="872" cy="236" rx="22" ry="9" transform="rotate(-25 872 236)" fill="#22e6b0" opacity="0.6"/><ellipse cx="1232" cy="295" rx="16" ry="36" transform="rotate(20 1232 295)" fill="#22e6b0"/><ellipse cx="1196" cy="320" rx="14" ry="22" transform="rotate(30 1196 320)" fill="#22e6b0" opacity="0.6"/><ellipse cx="1190" cy="384" rx="30" ry="9" transform="rotate(-10 1190 384)" fill="#22e6b0" opacity="0.9"/></g><g filter="url(#b4)"><ellipse cx="640" cy="203" rx="28" ry="8" transform="rotate(-14 640 203)" fill="#38f294"/><ellipse cx="798" cy="127" rx="30" ry="6" transform="rotate(-5 798 127)" fill="#38f294" opacity="0.9"/><ellipse cx="1018" cy="134" rx="22" ry="8" transform="rotate(-15 1018 134)" fill="#38f294" opacity="0.9"/><ellipse cx="1236" cy="290" rx="8" ry="16" transform="rotate(20 1236 290)" fill="#38f294" opacity="0.8"/></g><g filter="url(#b8)" opacity=".75"><ellipse cx="795" cy="545" rx="90" ry="7" transform="rotate(-3 795 545)" fill="#34abf3"/><ellipse cx="780" cy="621" rx="70" ry="8" transform="rotate(0 780 621)" fill="#34abf3"/><ellipse cx="1000" cy="495" rx="60" ry="9" transform="rotate(-8 1000 495)" fill="#34abf3"/><ellipse cx="900" cy="590" rx="80" ry="8" transform="rotate(3 900 590)" fill="#34abf3"/><ellipse cx="690" cy="575" rx="50" ry="6" transform="rotate(-5 690 575)" fill="#34abf3"/><ellipse cx="840" cy="500" rx="60" ry="7" transform="rotate(-4 840 500)" fill="#34abf3"/></g></g>
<g id="land"><use href="#lp" class="land"/></g>
<g id="lakes"><path d="M247.4 123.8L256.8 123.8L256.8 129.6L251 129.6L251 125.9L247.4 125.9ZM208.1 164.2L218 158.4L224.6 153L237.8 150.2L244.4 144.4L253.5 142.8L252.7 151.8L249.4 156.8L243.6 161.2L232.1 162.2L228.8 165.9L223.8 165L218 161.2L212.2 165.4ZM253.5 140.3L262.6 140.3L262.6 137.5L265.6 137.5L265.6 142.8L272.5 142.8L275 139.8L278.6 139.8L278.6 144.4L281.6 144.4L281.6 165L266.7 165L266.7 161.2L253.5 161.2L253.5 158.4L262.6 157.9L262.6 151.8L253.2 151.8ZM291.5 150.2L294.8 150.2L294.8 153.5L298.1 153.5L298.1 159.3L291.5 159.3L291.5 161.2L289 161.2L289 153.5L291.5 153.5ZM266.7 210.4L266.7 190.6L270 184L279.1 174.9L291.5 174.9L291.5 172.1L294.8 172.1L294.8 174.9L298.1 174.9L298.1 177.8L294.8 178.3L291.5 184L291.5 187.3L289 187.3L288.2 184L282.4 187.3L279.1 195.6L275.8 197.2L275 204.7L278.3 207.1L278.6 210.4L275.3 210.4L275 207.1L269.2 207.1L269.2 213.7L263.4 213.7L263.4 207.1L266.7 207.1ZM305.5 174.9L311.3 174.9L311.3 177.4L305.5 177.4ZM314.6 174.9L317.6 174.9L317.6 177.1L314.6 177.1ZM166 132L171 132L171 136.5L166 136.5ZM321.5 191.5L339.6 191.5L339.6 194.8L333.8 198.1L318.2 198.1L318.2 194.8L321.5 194.8ZM369.3 203.8L375.9 203.8L375.9 201.4L387.5 201.4L387.5 203L392.4 201.4L403.2 201.4L403.2 198.9L408.1 198.9L408.1 203.8L404 206.3L372.6 207.1L369.3 206.3ZM511.3 133.7L519.5 133.7L519.5 136.2L511.3 136.2ZM527 127.1L530.3 127.1L530.3 129.6L527 129.6ZM540.7 146.1L548.9 146.1L548.9 150.2L545.6 152.7L540.7 150.2ZM704 142.8L708.9 142.8L708.9 148.5L704 148.5ZM697.4 150.2L707.3 150.2L707.3 153.5L697.4 153.5ZM696.6 158.4L699.9 158.4L699.9 161.7L696.6 161.7ZM388.2 503.3L391.9 503.3L391.9 506.6L388.2 506.6ZM433.1 510.2L443 510.2L443 512.7L439.7 512.7L439.7 515.2L433.1 515.2ZM166 558.8L170.2 558.8L170.2 560.4L166 560.4ZM284.9 613.3L289 613.3L289 615.7L284.9 615.7ZM279.1 622L281.6 622L281.6 625.6L279.1 625.6ZM337.7 568.2L340.3 568.2L340.3 570.8L337.7 570.8ZM854.7 796.5L858 796.5L858 798.6L863.8 798.6L863.8 801.4L854.7 801.4ZM912.5 825.4L915.8 825.4L915.8 827.8L912.5 827.8Z" fill="#3f93fb"/></g>
<path class="grid" d="M361.41 122.0V829.9M618.66 122.0V829.9M875.92 122.0V829.9M1133.17 122.0V829.9M104.15 250.71H1261.8M104.15 379.42H1261.8M104.15 508.13H1261.8M104.15 636.84H1261.8M104.15 765.55H1261.8"/>
<g id="states"><path class="state" d="M166 122.6L166 129.9M139.6 135.3L141.3 146.1L144.2 156.8L146.2 167.5L147.9 172.5L144.6 178.3L149 181.6L149 205.5L147.9 210.4L148.7 215.4L147 217M104.1 174.5L147 174.5M104.1 212.4L123.1 212.4L129.7 214.6L138 213.7L147 217L152.8 226.9L156.9 236.9L159.4 243.8L163.6 250.1L169.3 253.4L166.9 256.3L172.6 263.3L172.6 278.9M149 205.5L215.5 205.5M104.1 250.4L163.6 250.4M159.4 243.1L210.6 243.1L213.9 245.9M237.8 149L227.1 165.9L225.5 156.8L218 158.4L203.2 164.2L202.3 173.3L195.4 178.3L197.4 183.2L196.6 189L205.6 194.8L213.9 199.7L216.4 203.8L218 208L218.9 214.6L224.6 218.7L230.4 225.3L227.1 230.2L218.9 233.5L219.7 239.3L214.7 243.5L213.9 245.9L213.1 251.7L219.7 258.3L224.6 264.1L230.4 266.6L230.4 273.2L236.2 278.9M224.6 218.4L270 218.4M227.1 166.2L232.1 168.3L243.6 171.6L256 175.8L260.9 181.6L263.4 184.9L266.7 184L270 180.4L275 180.7L280.8 183.5L275 189L271.7 197.2L270 210.4L270 218.4L268.4 227.8M264.2 228.3L299.7 228.3L317.9 227.8L321.2 225.3M264.2 228.3L264.2 261.6L262.6 266.6L257.6 274.8L256.5 278.9M299.7 228.3L299.7 263.3M367.2 122.6L367.2 155.1L371 162.6L377.6 168.3L392.4 171.6L400.7 175.8L405.6 179.9L415.5 180.7L430.4 178.3L432.9 179.9L432.9 183.2M499.7 155.1L503.9 156.8L510.5 155.1L511.3 149.4L519.5 147.7L531.1 148M364.4 217.9L364.4 225.3L421.3 225.3L425.5 231.1L438.7 237.2M354.5 221.2L354.5 254.2L415.5 253.7L418.9 252.5M425.5 231.1L427.9 233.5L423 241L424.6 245.9L428.8 248.4L425.5 250.1M416.4 253.7L416.4 269.9L423 270.2M446.1 186L446.9 195.6L445.3 202.2L447.7 215.4L445.3 225.3L444.4 236M470.8 186L463.4 195.6L458.5 207.1L456.5 215.4M475 183.2L478.3 212.1L479.1 213.4M447.7 215.7L473.3 215.4L479.1 213.4M445.3 225.3L471.7 225.3L474.1 229.4M466.7 225.3L466.7 232.2M300 228.3L316.5 227.8L320.6 225.3M354.5 242.6L351.2 250.1L341.3 258.3L335.5 264.9L331.4 270.7L328.1 273.2L330.5 278.9M300 261.6L309.9 266.6L318.2 268.5L328.1 273.2M367.7 254.2L367.7 260L379.2 255L385.8 259.1L389.1 256.7L399 264.6M379.2 255.8L373.5 263.2L366 269L354.5 282.7L341.3 286L334.7 282.4L327.2 274.5M300 294.6L413.9 294.6M334.7 282.4L324.8 287.7L314.9 293.5L311.6 294.6M305 314.1L309.9 309.1L324.8 302.5L336.3 297.6L338.8 295.1M317.3 316.1L329.7 312.8L347.9 314.1L351.2 316.6L366 317.4L379.2 328.9M317.3 317.4L326.4 327.3L336.3 338.9L342.9 347.1L347.9 352.9M295.3 360L296.9 366.6L297.8 370.2L333.3 372.4L334.1 374.9L335.7 369.9L341.5 370.2M104.1 289L172.6 289M172.6 270L172.6 295.6L175.1 309.6L175.6 331.9L180.6 333.6L180.9 341L180.9 352.5L185.8 362.4L186.7 369L184.5 375.6L184.2 380.3M172.6 295.6L230.4 295.6L232.1 298.1L227.9 302.2L236.2 302.2M104.1 321.2L112.4 322.8L119.8 326.1L129.7 328.6L140.4 331.1L151.2 331.1L165.2 328.6L175.6 332.4M180.9 340.7L217.2 340.7M227.1 270L230.4 275L237 279.1L240.3 286.5L243.6 289.8L238.7 295.6L236.2 302.2L232.1 311.3L228.8 315.4L223 322.8L218 328.6L216.9 333.6L218 341L217.5 345.9L220.5 350.1L215.5 355.8L211.4 364.1L212.2 366.6L235.4 366.6L236.2 372.3L238.7 378.1M238.7 295.6L256 295.6L256.8 293.9L300.1 294.8M228.8 314.9L317.9 314.9M256.8 315.4L252.7 352.5L253.2 374M289 315.4L297.3 349.2L295.6 360L297.3 367.4L298.1 369.9M265.1 374L263.4 367.4L296.4 366.6M242 286.5L251.9 285.7L256.8 277.4L265.1 277.4L275 276.6L283.2 273.3L289.8 270M574.7 737L581.3 739.5L584.6 746.1L586.2 756L585.4 765.9L588.7 772.5L586.2 775L596.9 784.1L598.6 775.8L602.7 771.7L606.9 772.5L610.2 776.7L613.5 774.2L615.1 767.6L617.6 762.6L631.6 762.3M631.6 748.6L632.4 762.6L633.3 770.9L639 779.1L647.3 784.9L655.5 789L662.2 793.2L664.6 794.8L648.9 832M686.1 734.6L686.1 741.2L695.2 745.3L700.9 748.6L705.1 755.2L708.4 764.3L712.5 772.5L716.6 779.1L722.4 780.5M796.9 780L794.5 789L789.5 805.5L781.3 818.8L775.5 824.5L767.2 832M852.2 802.2L845.6 810.5L840.7 815.5L837.4 822.1L838.7 832M858 803.1L857.2 808.9L861.3 818.8L859.7 825.4L860.5 832"/></g>
<g id="borders"><path class="bord" d="M103.3 134.5L165.7 134.5L166 129.9L170.7 129.9L171.8 135.3L175.9 138.6L192.4 141.1L211.4 145.7L221.3 144.1L240.3 147.4L252.7 143.6L298.1 161.2L302.2 166.7L308 167.2L310.5 170.8L315.4 172.5L317.9 176.6L328.6 181.6L333.6 203.8L330.3 212.1L322 221.2L321.2 226.1L329.4 228.9L340 223.6L342.1 223.3L354.5 220.3L366 217L375.1 213.7L375.1 208.8L371 205.5L402.3 203.8L405.6 198.9L426.3 186L470.8 186L471.7 183.2L482.4 180.7L486.5 174.1L490.7 163.4L499.7 155.1L503 157.6L512.9 156L518.7 159.3L519.5 176.6L530.3 189M102.5 402.5L109.9 409.9L112.4 418.2L115.7 425.6L123.1 428.9L133 432.2L140.1 432.2M242.1 562.6L242.1 535.7L218.9 535.7L219.7 542.8L213.9 543.6L227.1 554.3L226.3 558.5L208.9 559.3M242.1 535.7L245.3 534L248.6 534.5L251.9 527.9L255.5 527.1M208.9 559.3L203.2 569.5L204 577.8M252.7 563.2L242.8 572L242 577.8L238.7 580.3L231.2 587.7M238.7 580.3L243.6 581.9L250.2 586.9L256.8 586L260.9 588.5L261.8 593.5L262.6 596.3M265.9 597.6L271.7 596.8L275 588.5L281.6 585.2L286.5 586.9L293.1 581.9L298.1 575.3L304.7 575.3L314.6 572.8L321.2 572M286.5 621.5L294 624L300.6 623.2L306.3 625.6L311.3 626.5L312.9 624M329.4 643L323.7 644.6L322.8 648.8L325.3 652.1L323.7 660.3M392.4 651.6L395.7 662.3L390 665.6L389.1 670.3M465.1 616.9L458.5 623.6L451.9 629.3L446.9 646.7L453.5 649.1L459.3 659L457.6 668.1L464.2 674.7L475 673.1L486.5 673.9L498.1 687.1L512.9 684.6L524.5 686.3L519.5 697L518.7 708.6L522.8 720M619.9 658.2L612.4 664L610 669.8L614.9 673.9L611.6 677.2L604.2 678.9L602.5 685.5L600.1 688.8L605.8 695.4L610.8 700.3L602.5 706.1L589.3 711L579.4 716L575.3 713.5L557.1 711.9L561.3 716.8L559.6 720M610.8 700.3L612.4 697.8L616.6 698.7L619 705.3L620.7 709.4L624 715.2L622.3 720M655.4 687.9L652.9 700.3L645.5 703.6L643.8 710.2L648.8 720M695 691.2L690 702L690.8 710.2L695 720M726.3 709.4L722.2 716L719.7 720M375.3 747.4L385.2 752.7L391.8 755.2L394.3 759.3L405.8 761.8L409.1 760.2L421.5 766.8L422.3 774.2L419 783.3L412.4 790.7L404.2 798.9L388.5 803.9L381.9 813L378.6 822.1L372 828.7L367 822.9L361.3 821.2L355.5 822.1L354.7 818.8L358 813.8L357.1 808M421.5 766.8L427.3 769.2L435.5 777.5L443 781.6L450.4 794.8L459.5 796.5L466.1 793.7L471 795.6L479.3 794.3L489.2 799.8L480.9 813L490.8 821.2L495 803.9L497.5 782.4L496.6 775L489.2 769.2L489.2 757.7L499.1 756.9L499.9 752.7L492.5 751.9L492 743.2L517.3 743.2L521.4 739.2L525.5 744.5L528 751.1L529.6 746.1M522.9 719.9L524.7 721.4L518.1 728.8L525.5 735.4L529.6 746.1L537.1 756L546.1 755.2L549.4 751.1L560 747.4M490.8 821.2L478.5 820.4L468.6 823.7L458.7 829.5L452.1 833.6M610.8 700.2L606 705.7L592.8 710.6L578.8 716.4L575.5 714.8L556.5 712.3L561.5 717.2L560.6 723L563.1 732.1L574.7 734.6L574.7 737L566.4 740.3L563.1 746.9L549.1 751.9L546.6 755.2L540 756M610.8 700.2L615.9 698.3L617.6 705.7L623.4 710.6L624.2 714.8L620.9 720.5L620.1 729.6L624.2 740.3L631.6 748.6L637.4 748.1L648.9 742.8L653.9 739.5L663 740.8L669.6 741.5L670.4 737.9L669.6 733.7L675.4 734.2L681.1 733.2L686.9 734.6L689.4 736.2L696 737.9L699.3 734.9L703.4 738.7L708.4 737.9L713.3 733.7L717.5 724.7L721.6 717.2L726.5 711.1M648.8 719.9L653.9 723L657.2 730.4L663 740.8M695 719.9L692.7 728L689.4 736.2M1265.1 420.3L1254.4 418.1L1243.7 419.4L1239.5 430.2L1235.4 431L1229.6 445.9L1211.5 459.9L1208.2 477.2L1203.2 483L1199.9 489.6M1265.1 431.8L1237.1 431.8L1237.1 464.4L1224.7 465.7L1221.4 473.1L1224.2 490.4L1172.7 490.4M1178.4 555.3L1182.6 553.7L1189.2 554.5L1195.8 552L1202.4 552L1217.2 558.6L1227.1 569.4L1233.8 576.8L1238.7 572.7L1240.4 567.4L1245.3 566.9L1253.6 570.2L1265.1 567.4M1233.8 576.8L1234.6 584.2L1237.1 591.6L1241.7 597.4L1242 605.7L1242.8 610.3L1248.6 608.2L1255.2 612.3L1265.1 613.6M1175.1 590.5L1187.5 590L1192.5 586.7L1195.8 586.7L1202.4 590.5L1209.8 588.8L1212.3 590.8L1209 593.8L1204 594.5L1197.4 592.5L1193.3 592.8L1186.7 596.6L1175.1 596.6M1176.8 604.9L1185.9 603.7L1191.6 602.7L1213.9 603.2L1222.2 604.4L1230.4 606.5L1235.4 604.9L1242 605.7M1213.9 604L1213.6 610.6L1210.6 613.9L1202.4 616.9L1195.8 623.5M1220.5 651.1L1225.5 645.3L1228.8 639.5L1236.2 636.2L1246.1 636.2L1250.3 640.4L1253.6 648.6L1256 656.9L1265.1 655.2M1256 658.8L1248.6 667.1L1245.3 672.8L1242.8 677.8M468.1 511.4L468.9 519.6L465.6 525.4L468.1 535.8M245.3 562.6L245.3 534"/></g>
<g id="coast"><use href="#lp" class="coast"/></g>
</g>
<rect x="104.15" y="122.0" width="1157.65" height="707.90" fill="none" stroke="#000" stroke-width="2.2"/>
<g opacity=".999">
<text x="683" y="99.7" text-anchor="middle" style="font-size:33.33px">ECMWF – Day 1 (10m Wind Speed)</text>
<text class="t10" x="89.1" y="259.0" text-anchor="end">40°N</text>
<text class="t10" x="89.1" y="387.7" text-anchor="end">30°N</text>
<text class="t10" x="89.1" y="516.4" text-anchor="end">20°N</text>
<text class="t10" x="89.1" y="645.1" text-anchor="end">10°N</text>
<text class="t10" x="89.1" y="773.8" text-anchor="end">0°</text>
<text class="t10" x="361.4" y="865.9" text-anchor="middle">80°W</text>
<text class="t10" x="618.7" y="865.9" text-anchor="middle">60°W</text>
<text class="t10" x="875.9" y="865.9" text-anchor="middle">40°W</text>
<text class="t10" x="1133.2" y="865.9" text-anchor="middle">20°W</text>
<text x="683" y="904.5" text-anchor="middle" style="font-size:25px;fill:#333">Max: 40 kt @ 49.8°N, 29.2°W • Valid 2025-12-13 00Z</text>
<path d="M1289.6 931.6V63.2L1312.30 19.3L1335.0 63.2V931.6Z" fill="url(#cbg)" stroke="#000" stroke-width="2.2" stroke-linejoin="miter"/>
<path d="M1289.6 63.7L1312.30 20.5L1335.0 63.7Z" fill="#7a0403"/>
<path d="M1289.6 63.2L1312.30 19.3L1335.0 63.2" fill="none" stroke="#000" stroke-width="2.2" stroke-linejoin="miter"/>
<text class="t10" x="1355.7" y="941.9">20</text>
<text class="t10" x="1355.7" y="720.8">40</text>
<text class="t10" x="1355.7" y="543.4">60</text>
<text class="t10" x="1355.7" y="379.4">80</text>
<text class="t10" x="1355.7" y="223.5">100</text>
<text class="t10" x="1355.7" y="73.5">120</text>
<path d="M1336.1 931.60h9.7M1336.1 710.50h9.7M1336.1 533.06h9.7M1336.1 369.07h9.7M1336.1 213.23h9.7M1336.1 63.20h9.7" stroke="#000" stroke-width="2.2" fill="none"/>
<text class="t10" transform="translate(1439.5 497.6) rotate(-90)" text-anchor="middle">10m Wind Speed (knots)</text>
</g>
</svg></body></html>
